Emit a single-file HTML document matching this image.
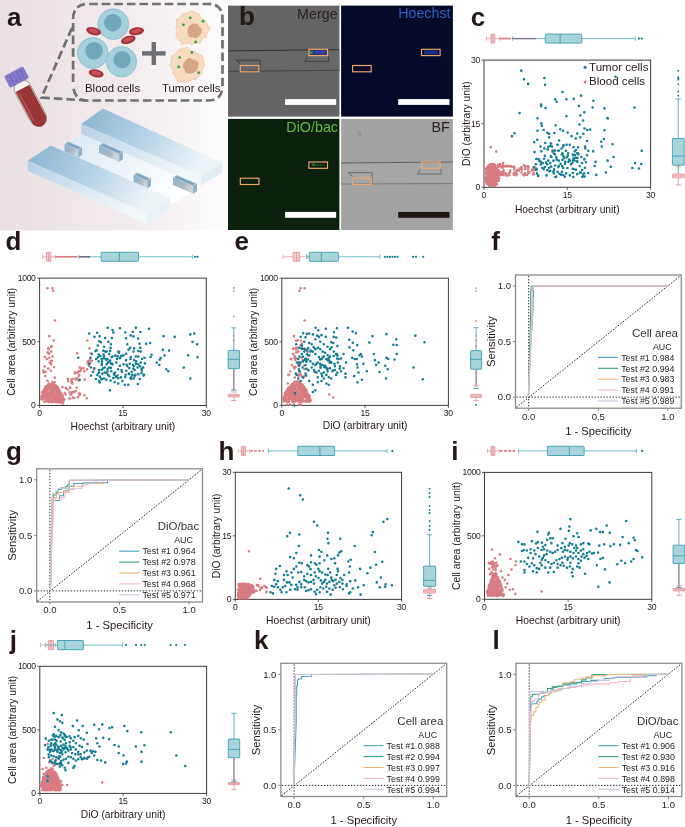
<!DOCTYPE html>
<html><head><meta charset="utf-8"><style>html,body{margin:0;padding:0;background:#fff;}svg{display:block;will-change:transform;}</style></head><body>
<svg width="685" height="827" viewBox="0 0 685 827" font-family='"Liberation Sans", sans-serif'>
<rect width="685" height="827" fill="#ffffff"/>
<defs><linearGradient id="bga" x1="0" y1="0" x2="1" y2="0"><stop offset="0" stop-color="#eadfe2"/><stop offset="0.55" stop-color="#f2ebed"/><stop offset="1" stop-color="#fdfcfc"/></linearGradient><linearGradient id="chipT" x1="0" y1="0" x2="1" y2="0.3"><stop offset="0" stop-color="#86b3d0"/><stop offset="0.55" stop-color="#b9d5e6"/><stop offset="1" stop-color="#eef5f9"/></linearGradient><linearGradient id="chipS" x1="0" y1="0" x2="1" y2="0.3"><stop offset="0" stop-color="#b8d2e4"/><stop offset="1" stop-color="#f3f8fb"/></linearGradient><linearGradient id="chipF" x1="0" y1="0" x2="1" y2="0.3"><stop offset="0" stop-color="#d6e6f1"/><stop offset="1" stop-color="#ffffff"/></linearGradient><linearGradient id="trapF" x1="0" y1="0" x2="1" y2="0.4"><stop offset="0" stop-color="#8fb3cd"/><stop offset="0.6" stop-color="#aab7c2"/><stop offset="1" stop-color="#c9d3da"/></linearGradient><radialGradient id="tum" cx="0.5" cy="0.5" r="0.5"><stop offset="0" stop-color="#f4d3b0"/><stop offset="1" stop-color="#f6dcc0"/></radialGradient></defs>
<rect x="0" y="0" width="226" height="230.5" fill="url(#bga)"/>
<text x="6.9" y="25.5" font-size="26" text-anchor="start" fill="#231815" font-weight="bold">a</text>
<g fill="none" stroke="#707075" stroke-width="2.7" stroke-dasharray="8.6 4"><path d="M73.1 82 L73.1 19 Q73.1 4 88 4 L209 4 Q222.5 4 222.5 19 L222.5 86 Q222.5 100.5 208 100.5 L87 100.5 Q74.5 100.5 73.1 86"/><path d="M72 28 L41.5 97.5 L86 100.5"/></g>
<circle cx="113.3" cy="24.2" r="15.4" fill="#a5d1dd" stroke="#86bccb" stroke-width="0.8"/>
<circle cx="112.8" cy="22.6" r="8.78" fill="#6ea8ba"/>
<circle cx="92.8" cy="53" r="15.4" fill="#a5d1dd" stroke="#86bccb" stroke-width="0.8"/>
<circle cx="94.1" cy="50.8" r="8.78" fill="#6ea8ba"/>
<circle cx="121.5" cy="61.8" r="15.2" fill="#a5d1dd" stroke="#86bccb" stroke-width="0.8"/>
<circle cx="122" cy="59.6" r="8.66" fill="#6ea8ba"/>
<g transform="translate(93.6 31.2) rotate(14)"><ellipse rx="7.6" ry="3.9" fill="#a7343a"/><ellipse rx="4.8" ry="2.0" cy="-0.3" fill="#c4545a"/></g>
<g transform="translate(136.5 31.2) rotate(-8)"><ellipse rx="7.6" ry="3.9" fill="#a7343a"/><ellipse rx="4.8" ry="2.0" cy="-0.3" fill="#c4545a"/></g>
<g transform="translate(128.3 39.8) rotate(-18)"><ellipse rx="7.6" ry="3.9" fill="#a7343a"/><ellipse rx="4.8" ry="2.0" cy="-0.3" fill="#c4545a"/></g>
<g transform="translate(96.2 73.4) rotate(12)"><ellipse rx="7.6" ry="3.9" fill="#a7343a"/><ellipse rx="4.8" ry="2.0" cy="-0.3" fill="#c4545a"/></g>
<rect x="142" y="51.2" width="23.6" height="4.4" fill="#6f6f73"/><rect x="151.6" y="42" width="4.4" height="23" fill="#6f6f73"/>
<polygon points="210.49,28.4 208.28,30.17 208.1,31.95 206.99,33.46 206.07,34.93 206.79,37.29 204.06,37.6 202.81,38.68 201.95,40.12 200.67,41.16 200.08,43.44 197.81,42.81 196.27,43.39 194.61,43.51 193.01,43.71 191.4,44.81 189.79,43.71 188.22,43.37 186.55,43.33 184.74,43.35 181.94,44.78 181.37,42.2 179.88,41.19 178.6,39.92 177.3,38.64 175.6,37.52 176.49,35.04 176.35,33.29 176.49,31.57 176.43,29.97 175.63,28.4 176.65,26.85 176.8,25.3 176.57,23.58 176.72,21.86 175.98,19.5 178.02,18.68 179.2,17.41 180.46,16.25 181.78,15.16 182.67,13.28 184.8,13.58 186.35,12.85 188.03,12.53 189.65,11.79 191.4,10.7 193.17,11.6 194.89,12 196.49,12.73 197.85,13.92 199.63,14.14 200.23,16.24 201.29,17.41 202.38,18.51 203.29,19.76 205.69,20.15 205.91,21.94 207.13,23.29 207.68,24.94 208.44,26.61" fill="#f7dbbe" stroke="#ebc39e" stroke-width="0.7"/>
<polygon points="201.76,31 201.45,32.91 200.46,34.55 199.09,35.79 197.81,37.08 196.22,38.17 194.3,37.7 192.55,37.53 190.48,37.62 188.79,36.51 187.87,34.71 187.57,32.8 187.48,31 187.66,29.22 188.11,27.43 188.98,25.68 190.66,24.7 192.43,24.01 194.3,23.36 196.23,23.8 197.95,24.68 198.91,26.39 200.3,27.54 201.47,29.08" fill="#d8a682"/>
<circle cx="190.3" cy="17.9" r="1.35" fill="#22a632"/>
<circle cx="203" cy="21.4" r="1.35" fill="#22a632"/>
<circle cx="183.4" cy="24.8" r="1.35" fill="#22a632"/>
<circle cx="195.6" cy="41.8" r="1.35" fill="#22a632"/>
<polygon points="204.77,65.2 203.32,66.92 202.54,68.5 202.3,70.17 201.8,71.79 201.88,73.79 200.05,74.68 199.12,76.11 197.8,77.2 196.25,77.94 195.65,80.19 193.28,79.31 191.78,79.91 190.27,80.58 188.66,80.98 187,82.75 185.26,81.76 183.42,82.05 181.5,82.11 179.73,81.54 177.37,81.88 176.82,79.21 175.68,77.77 175.07,75.94 174.44,74.32 172.49,73.57 173.1,71.39 172.42,69.94 171.89,68.41 171.43,66.84 169.25,65.2 170.57,63.47 170.87,61.77 171.06,60.02 171.86,58.46 170.99,55.96 173.69,55.53 174.89,54.3 175.96,52.94 177.28,51.82 178.1,49.78 180,49.48 181.69,48.87 183.4,48.28 185.22,48.31 187,47.1 188.66,49.37 190.22,50.03 191.62,50.97 192.98,51.77 194.99,51.35 196.01,52.8 197.43,53.62 198.98,54.41 200.79,55.18 202.9,56.02 202.95,58.1 203.64,59.79 203.85,61.62 204.02,63.41" fill="#f7dbbe" stroke="#ebc39e" stroke-width="0.7"/>
<polygon points="198.16,66 198.15,68.02 197.09,69.75 195.94,71.34 194.31,72.43 192.45,72.92 190.6,73.72 188.56,73.62 186.36,73.34 184.95,71.65 184.56,69.49 183.51,67.9 183.15,66 183.15,64 183.97,62.17 185.21,60.61 186.67,59.19 188.44,57.95 190.6,58.36 192.43,59.16 194.23,59.7 196.19,60.41 197.85,61.81 198.64,63.85" fill="#d8a682"/>
<circle cx="191.9" cy="52.4" r="1.35" fill="#22a632"/>
<circle cx="179.7" cy="57.5" r="1.35" fill="#22a632"/>
<circle cx="178.7" cy="66.9" r="1.35" fill="#22a632"/>
<circle cx="198.6" cy="72.7" r="1.35" fill="#22a632"/>
<text x="85" y="91.8" font-size="11.4" text-anchor="start" fill="#231815" font-weight="normal">Blood cells</text>
<text x="162" y="91.8" font-size="11.4" text-anchor="start" fill="#231815" font-weight="normal">Tumor cells</text>
<g transform="translate(20.2 84.0) rotate(-28)"><rect x="-8.6" y="-3" width="17.2" height="49.2" rx="8.4" fill="#f4f4f2" stroke="#8d8f80" stroke-width="0.8"/><path d="M-7.8 5 L7.8 5 L7.8 39.7 A7.8 7.8 0 0 1 -7.8 39.7 Z" fill="#9b3638"/><path d="M-5.3 8 L-5.3 38.5" stroke="#c06064" stroke-width="0.9"/><rect x="-10.8" y="-14.5" width="21.6" height="13.4" rx="2.2" fill="#8479c6"/><path d="M-5.5 -12.5 v9.5 M-1.5 -12.5 v9.5 M2.5 -12.5 v9.5 M6.5 -12.5 v9.5" stroke="#7167b6" stroke-width="1"/></g>
<polygon points="58.7,148.9 81.3,133.9 200.9,186 178.3,201 165,206 50,160" fill="url(#chipF)" stroke="none" stroke-width="0.5"/>
<polygon points="81.3,123.9 102.8,108.6 222.3,162.8 200.9,176" fill="url(#chipT)" stroke="none" stroke-width="0.5"/>
<polygon points="81.3,123.9 200.9,176 200.9,186 81.3,133.9" fill="url(#chipS)" stroke="none" stroke-width="0.5"/>
<polygon points="200.9,176 222.3,162.8 222.3,172.8 200.9,186" fill="#e2eef6" stroke="none" stroke-width="0.5"/>
<polygon points="64.5,144 78.25,149.99 82,147.5 68.25,141.51" fill="#9fc0d6" stroke="none" stroke-width="0.5"/>
<polygon points="64.5,151.5 78.25,157.49 78.25,149.99 64.5,144" fill="url(#trapF)" stroke="none" stroke-width="0.5"/>
<polygon points="78.25,157.49 82,155 82,147.5 78.25,149.99" fill="#8fb0c8" stroke="none" stroke-width="0.5"/>
<polygon points="66.43,143.93 77.98,148.96 80.06,147.58 68.51,142.54" fill="#7fa3bd" stroke="none" stroke-width="0.5"/>
<polygon points="99,145.5 119.17,154.29 122.91,151.8 102.75,143.01" fill="#9fc0d6" stroke="none" stroke-width="0.5"/>
<polygon points="99,153 119.17,161.79 119.17,154.29 99,145.5" fill="url(#trapF)" stroke="none" stroke-width="0.5"/>
<polygon points="119.17,161.79 122.91,159.3 122.91,151.8 119.17,154.29" fill="#8fb0c8" stroke="none" stroke-width="0.5"/>
<polygon points="100.93,145.43 118.9,153.26 120.98,151.87 103.01,144.04" fill="#7fa3bd" stroke="none" stroke-width="0.5"/>
<polygon points="133.5,175 147.25,180.99 151,178.5 137.25,172.51" fill="#9fc0d6" stroke="none" stroke-width="0.5"/>
<polygon points="133.5,182.5 147.25,188.49 147.25,180.99 133.5,175" fill="url(#trapF)" stroke="none" stroke-width="0.5"/>
<polygon points="147.25,188.49 151,186 151,178.5 147.25,180.99" fill="#8fb0c8" stroke="none" stroke-width="0.5"/>
<polygon points="135.43,174.93 146.98,179.96 149.06,178.58 137.51,173.54" fill="#7fa3bd" stroke="none" stroke-width="0.5"/>
<polygon points="173,177.5 193.17,186.29 196.91,183.8 176.75,175.01" fill="#9fc0d6" stroke="none" stroke-width="0.5"/>
<polygon points="173,185 193.17,193.79 193.17,186.29 173,177.5" fill="url(#trapF)" stroke="none" stroke-width="0.5"/>
<polygon points="193.17,193.79 196.91,191.3 196.91,183.8 193.17,186.29" fill="#8fb0c8" stroke="none" stroke-width="0.5"/>
<polygon points="174.93,177.43 192.9,185.26 194.98,183.87 177.01,176.04" fill="#7fa3bd" stroke="none" stroke-width="0.5"/>
<polygon points="27.7,160.7 50.7,145.4 170.2,198.1 147.2,213.4" fill="url(#chipT)" stroke="none" stroke-width="0.5"/>
<polygon points="27.7,160.7 147.2,213.4 147.2,223.9 27.7,170.7" fill="url(#chipS)" stroke="none" stroke-width="0.5"/>
<polygon points="147.2,213.4 170.2,198.1 170.2,208.4 147.2,223.9" fill="#e8f2f8" stroke="none" stroke-width="0.5"/>
<rect x="228.0" y="5.6" width="111.4" height="111" fill="#646464"/>
<rect x="228.0" y="50.6" width="111.4" height="20.6" fill="#676767"/>
<line x1="228.0" y1="50.9" x2="339.4" y2="49.6" stroke="#2e2e2e" stroke-width="0.9"/>
<line x1="228.0" y1="71.3" x2="339.4" y2="70.3" stroke="#3e3e3e" stroke-width="0.8"/>
<path d="M236.3 60.3 L259.9 60.3 L259.9 70.5 M236.3 60.3 L240 63.5" stroke="#3a3a3a" stroke-width="0.9" fill="none"/>
<path d="M304.8 61.3 L328.6 61.3 L328.6 56 M304.8 61.3 L307.5 57" stroke="#3a3a3a" stroke-width="0.9" fill="none"/>
<rect x="309.5" y="50" width="17.6" height="5" fill="#2a3170"/><rect x="314" y="50.8" width="11" height="3.4" fill="#3442a8"/><rect x="309.8" y="50.8" width="3" height="3" fill="#3c8a50"/>
<rect x="341.1" y="5.6" width="111.8" height="111" fill="#050a28"/>
<rect x="424" y="50.5" width="14" height="4" fill="#1b3a9a" opacity="0.8"/>
<rect x="228.0" y="118.9" width="111.4" height="111.1" fill="#0c200e"/>
<ellipse cx="313.5" cy="164.8" rx="2" ry="1.2" fill="#2f8a3a" opacity="0.8"/><rect x="315" y="164" width="9" height="2" fill="#17401c"/>
<rect x="341.1" y="118.9" width="111.8" height="111.1" fill="#a3a3a3"/>
<rect x="341.1" y="163" width="111.8" height="21" fill="#a6a6a6"/>
<line x1="341.1" y1="163" x2="452.9" y2="162" stroke="#5a5a5a" stroke-width="0.9"/>
<line x1="341.1" y1="184.0" x2="452.9" y2="183.6" stroke="#707070" stroke-width="0.8"/>
<path d="M348.5 172.6 L372 172.6 L372 184 M348.5 172.6 L352.5 177" stroke="#666" stroke-width="0.9" fill="none"/>
<path d="M417.5 174 L441 174 L441 168.5 M417.5 174 L420.5 169" stroke="#666" stroke-width="0.9" fill="none"/>
<circle cx="359.5" cy="133.5" r="2.4" fill="#909090" opacity="0.8"/>
<rect x="240.3" y="65.5" width="18.6" height="6.3" fill="none" stroke="#f3a66c" stroke-width="1.15"/>
<rect x="308.9" y="49.3" width="18.6" height="6.3" fill="none" stroke="#f3a66c" stroke-width="1.15"/>
<rect x="352.6" y="65.5" width="18.6" height="6.3" fill="none" stroke="#f3a66c" stroke-width="1.15"/>
<rect x="421.5" y="49.3" width="18.6" height="6.3" fill="none" stroke="#f3a66c" stroke-width="1.15"/>
<rect x="240.3" y="178.2" width="18.6" height="6.3" fill="none" stroke="#f3a66c" stroke-width="1.15"/>
<rect x="308.9" y="162" width="18.6" height="6.3" fill="none" stroke="#f3a66c" stroke-width="1.15"/>
<rect x="352.6" y="178.2" width="18.6" height="6.3" fill="none" stroke="#f3a66c" stroke-width="1.15"/>
<rect x="421.5" y="162" width="18.6" height="6.3" fill="none" stroke="#f3a66c" stroke-width="1.15"/>
<rect x="285.1" y="99.1" width="51.1" height="5.8" fill="#ffffff"/>
<rect x="398.2" y="99.1" width="51.3" height="5.8" fill="#ffffff"/>
<rect x="285.1" y="211.9" width="51.1" height="5.9" fill="#ffffff"/>
<rect x="398.2" y="211.9" width="51.3" height="5.9" fill="#1e1412"/>
<text x="239" y="25.4" font-size="26" text-anchor="start" fill="#231815" font-weight="bold">b</text>
<text x="337.6" y="19.2" font-size="14.3" text-anchor="end" fill="#2b2020" font-weight="normal">Merge</text>
<text x="450.6" y="17.9" font-size="14.3" text-anchor="end" fill="#2f5fc8" font-weight="normal">Hoechst</text>
<text x="338" y="132.3" font-size="14.3" text-anchor="end" fill="#5cbf3e" font-weight="normal">DiO/bac</text>
<text x="449.8" y="132.3" font-size="14.3" text-anchor="end" fill="#2b2020" font-weight="normal">BF</text>
<text x="470.8" y="25.8" font-size="26" text-anchor="start" fill="#231815" font-weight="bold">c</text>
<rect x="484" y="60.1" width="166.6" height="127.2" fill="none" stroke="#3c3c3c" stroke-width="1"/>
<line x1="481.5" y1="187.3" x2="484" y2="187.3" stroke="#3c3c3c" stroke-width="0.8"/>
<text x="480" y="190.2" font-size="8.6" text-anchor="end" fill="#231815" font-weight="normal" letter-spacing="-0.3">0</text>
<line x1="481.5" y1="123.7" x2="484" y2="123.7" stroke="#3c3c3c" stroke-width="0.8"/>
<text x="480" y="126.6" font-size="8.6" text-anchor="end" fill="#231815" font-weight="normal" letter-spacing="-0.3">15</text>
<line x1="481.5" y1="60.1" x2="484" y2="60.1" stroke="#3c3c3c" stroke-width="0.8"/>
<text x="480" y="63" font-size="8.6" text-anchor="end" fill="#231815" font-weight="normal" letter-spacing="-0.3">30</text>
<line x1="484" y1="187.3" x2="484" y2="189.8" stroke="#3c3c3c" stroke-width="0.8"/>
<text x="483.85" y="197.9" font-size="8.6" text-anchor="middle" fill="#231815" font-weight="normal" letter-spacing="-0.3">0</text>
<line x1="567.3" y1="187.3" x2="567.3" y2="189.8" stroke="#3c3c3c" stroke-width="0.8"/>
<text x="567.15" y="197.9" font-size="8.6" text-anchor="middle" fill="#231815" font-weight="normal" letter-spacing="-0.3">15</text>
<line x1="650.6" y1="187.3" x2="650.6" y2="189.8" stroke="#3c3c3c" stroke-width="0.8"/>
<text x="650.45" y="197.9" font-size="8.6" text-anchor="middle" fill="#231815" font-weight="normal" letter-spacing="-0.3">30</text>
<text x="567.3" y="212.9" font-size="10.3" text-anchor="middle" fill="#231815" font-weight="normal">Hoechst (arbitrary unit)</text>
<text x="470.1" y="123.7" font-size="10.3" text-anchor="middle" fill="#231815" font-weight="normal" transform="rotate(-90 470.1 123.7)">DiO (arbitrary unit)</text>
<path d="M487.36 175.23h0M494.22 164.65h0M499.25 177.99h0M490.85 175.51h0M495.11 170.19h0M487.5 181.73h0M495.22 175.53h0M497.34 176.35h0M493.53 174.88h0M490.62 177.31h0M488.91 182.05h0M492.27 170.24h0M491.73 167.32h0M495.26 168.55h0M490.51 174.55h0M498.64 179.69h0M490.42 164.38h0M492.17 179.55h0M497.77 177.23h0M489.98 171.14h0M486.79 167.89h0M492.26 166.86h0M496.22 168.4h0M486.4 177.46h0M497.17 168.28h0M489.75 180.36h0M492.65 183.19h0M488.65 171.09h0M489.24 186.01h0M491.82 171.07h0M486.48 173.09h0M489.05 183.02h0M496.26 176.28h0M495.09 179.58h0M487.67 178.09h0M487.58 173.97h0M496.9 184.13h0M490.71 167.67h0M489.04 172.04h0M494.73 167.59h0M492.72 165.77h0M494.36 169.21h0M493.55 178.33h0M490.21 178.48h0M490.6 166.94h0M490.07 172.89h0M486.75 176.63h0M495.65 165.5h0M497.19 179.38h0M487.59 174.46h0M486.22 182.04h0M495.92 182.1h0M496.53 170.01h0M496.95 169.61h0M487.5 172.78h0M492.72 170.43h0M494.28 177.56h0M488.98 178.01h0M490.68 180.53h0M489.71 181.97h0M491.52 176.45h0M495.26 175.66h0M489.24 186.04h0M486.89 171.31h0M493.46 164.65h0M487.75 181.98h0M496.87 178.33h0M498.58 181h0M489.83 178.51h0M490.43 180.87h0M491.08 167.45h0M498.21 179.53h0M496.3 176.59h0M496.85 174.08h0M493.7 165.41h0M493.55 182.33h0M495.73 182.07h0M492.69 183.83h0M487.07 183.7h0M490.88 166.05h0M494.48 174.24h0M491.71 183.17h0M487.5 177.88h0M491.5 175.89h0M492.74 167.02h0M492.92 183.4h0M486.48 174.35h0M487.24 173.42h0M488.51 180.07h0M493.35 170.48h0M489.2 183.51h0M496.61 173.81h0M491.38 180.59h0M487.81 172.15h0M492.86 165.61h0M486.28 168.94h0M491.1 180.63h0M494.34 164.66h0M486.15 174.17h0M490.79 183.97h0M498.97 173.15h0M496.32 172.22h0M487.73 176.94h0M486.75 178.93h0M492 166.64h0M495.26 172.4h0M488.16 170.56h0M495.95 171.31h0M495.53 175.3h0M492.01 185.77h0M487.91 174.96h0M492.58 171.47h0M487.94 177.37h0M491.28 166.86h0M485.97 172.8h0M493.96 175.67h0M492.43 175.79h0M491.26 172.99h0M486.1 181.97h0M492.26 180.15h0M491.82 172.19h0M495.05 167.66h0M485.66 177.33h0M493.19 183.48h0M491.53 181.69h0M494.18 169.09h0M490.93 171.59h0M493.67 183.97h0M490.8 168.14h0M491.08 171.14h0M491.12 165.14h0M493.54 178.04h0M490.64 178.77h0M491.91 168.84h0M498.39 180.78h0M491.48 179.47h0M491.86 175.55h0M489.11 180.25h0M495.4 173.12h0M489.77 182.63h0M489.48 164.7h0M489.94 177.17h0M489.97 172.53h0M487.01 172.75h0M485.87 169.04h0M498.69 170.32h0M489.43 179.28h0M498.3 170.66h0M490.96 180.08h0M496.99 177.81h0M488.1 168.07h0M496.49 179.9h0M491.61 167h0M498.41 179.65h0M493.86 179.34h0M491.08 171.72h0M493.84 174.86h0M495.78 185.06h0M497.79 172.72h0M490.9 184.85h0M491.22 182.01h0M486.84 174.15h0M492.99 182.2h0M494.45 178.16h0M487.7 182.76h0M493.53 185.64h0M488.2 175.81h0M490.19 178.46h0M494.32 175.53h0M490.21 175.34h0M490.9 184.04h0M492.19 174.69h0M489.25 169.71h0M498.09 177.38h0M493.74 179.95h0M495.98 174.09h0M494.7 169.14h0M485.81 179.22h0M492.38 184.38h0M489.33 182.4h0M487.89 169.14h0M490.74 166.6h0M499.03 172.12h0M494.58 174.23h0M496.27 182.14h0M491.05 176.04h0M486.91 170.42h0M488.73 170.94h0M490.2 176.94h0M490.33 171.35h0M498.05 178.26h0M488.66 184.7h0M489.02 175.67h0M495.38 181.94h0M489.1 174.73h0M486.16 170.48h0M493.94 181.7h0M498.58 171.47h0M487.8 175.93h0M494.11 179.59h0M494.77 184.74h0M492.92 182.23h0M487.53 184.15h0M491.83 183.73h0M490.15 178.05h0M497.78 180.01h0M494.49 185.84h0M493.5 185.48h0M495.45 170.97h0M487.06 174.09h0M492.46 174.54h0M494.48 170.14h0M498.27 170.49h0M487.05 171.85h0M489.53 184.85h0M490.55 182.97h0M488.94 168.06h0M493.52 167.25h0M497.82 172.91h0M490.03 175.27h0M489.33 177.41h0M494.73 180.51h0M494.02 165.83h0M486.4 181.1h0M488.43 181.77h0M492.23 164.16h0M493.64 173.97h0M486.57 169.87h0M489.95 171.78h0M495.75 167.76h0M491.93 177.65h0M486.65 168.31h0M488.7 167.66h0M486.6 168.71h0M488.74 174.79h0M494.89 172.19h0M487.94 166.13h0M489.31 167.84h0M492.48 183.6h0M495.89 168.57h0M491.82 172.18h0M495.4 165.89h0M489.19 179.43h0M493.74 175.63h0M488.33 176.73h0M493.7 186.05h0M496.5 179.69h0M487.43 177.55h0M489.93 172.08h0M497.88 180.13h0M496.41 170.48h0M491.55 167.96h0M494.23 182.88h0M489.28 179.78h0M487.34 176.07h0M487.1 176.16h0M493.36 171.81h0M490.57 180h0M492.48 173.17h0M487.13 170.35h0M507.78 175.36h0M505.38 166.15h0M511.65 166.77h0M524.15 165.38h0M532.96 174.3h0M498.11 170.5h0M502.17 167.1h0M514.26 169.44h0M516.26 175.13h0M508.09 166.25h0M524.15 175.36h0M533.99 174.56h0M500.51 175.24h0M523.32 174.46h0M513.92 166.63h0M528.93 171.94h0M528.37 166.42h0M503.24 173.16h0M498.79 175.35h0M503.27 171.2h0M514.34 167.89h0M504.64 173.36h0M533.67 172.75h0M521.41 172.54h0M518.91 170.7h0M533.34 167.39h0M506.67 175.36h0M534.78 169.71h0M529.23 172.92h0M533.03 170h0M515.51 172.24h0M522.04 169.24h0M509.35 175.02h0M513.77 173.16h0M507.39 174.7h0M506.21 166.26h0M501.02 172.25h0M510.1 172.3h0M501.19 174.45h0M525.13 173.39h0M521.65 169.49h0M505.53 175.31h0M503.67 170.26h0M502.74 165.3h0M525.17 174.67h0M515.99 173.54h0M531.52 170.43h0M528.24 167.52h0M503.86 166.27h0M498.28 164.85h0M527.29 174.84h0M500.23 172.65h0M528.33 172.17h0M517.46 169.83h0M525.09 166.94h0M527.35 166.31h0M499.37 175.2h0M501.53 166.36h0M500.18 164.12h0M502.84 175.06h0M525.13 168.86h0M498.26 173.94h0M516.91 174.25h0M500.88 173.48h0M506.68 165.8h0M513.96 167.14h0M508.79 173.52h0M501.83 167.53h0M532.37 169.22h0M528.01 169.2h0M513.83 174.63h0M510.24 170.56h0M501.86 166.83h0M498.11 172.2h0M520.57 168.1h0M513.64 174.1h0M499.48 171.84h0M524.96 166.63h0M509.52 166.16h0M520.07 168.43h0M503.08 167.47h0M521.8 169.74h0M517.07 170.91h0M536.26 168.62h0M500.23 166.21h0M498.29 166.42h0M521.5 167.09h0M502.77 173.67h0M505.37 173.18h0M510.95 166.39h0M490.87 147.17h0M496.26 151.59h0M503.13 163.12h0M552.68 150.36h0M562.49 154.04h0M502.4 171.7h0" stroke="#d87c82" stroke-width="2.6" stroke-linecap="round" fill="none"/>
<path d="M521.28 70.65h0M523.98 79.23h0M528.15 83.89h0M544.34 78.01h0M545.07 84.87h0M562.49 91.99h0M555.13 99.34h0M556.6 101.8h0M566.41 99.34h0M573.77 98.85h0M581.13 95.67h0M593.39 100.82h0M541.15 104.5h0M541.15 106.21h0M545.56 107.93h0M578.92 105.97h0M592.66 107.44h0M604.43 108.42h0M634.6 107.44h0M519.57 113.08h0M566.41 116.27h0M537.47 118.23h0M584.32 112.34h0M580.39 115.53h0M583.09 120.44h0M579.41 124.61h0M607.38 117.99h0M607.87 118.48h0M541.4 123.38h0M541.89 125.83h0M555.62 125.34h0M543.6 130h0M547.28 132.7h0M537.47 130.74h0M537.23 139.82h0M560.28 129.27h0M562.98 130.74h0M567.64 132.46h0M577.21 133.44h0M584.56 128.53h0M587.26 130h0M590.21 129.51h0M604.43 130.25h0M514.41 133.19h0M511.96 136.14h0M554.39 132.95h0M549 133.68h0M559.06 140.55h0M563.72 145.21h0M571.56 136.14h0M575.73 138.59h0M580.39 137.36h0M587.02 141.04h0M583.34 133.68h0M601.24 141.78h0M603.94 139.08h0M601.73 146.44h0M612.53 144.23h0M550.96 143.49h0M551.94 146.44h0M545.32 143h0M549.24 137.36h0M534.28 142.27h0M540.41 146.44h0M544.34 148.4h0M547.77 149.38h0M541.4 151.34h0M544.83 155.76h0M534.53 152.08h0M536.24 158.95h0M540.9 161.89h0M534.28 167.29h0M536.24 169.98h0M536.98 173.42h0M542.38 168.02h0M544.83 167.04h0M550.23 163.12h0M552.43 151.34h0M555.13 154.53h0M556.36 157.23h0M558.81 160.66h0M560.53 163.85h0M563.22 168.02h0M557.58 171.7h0M553.9 173.42h0M550.23 170.97h0M546.55 175.38h0M569.85 144.72h0M573.53 147.17h0M574.75 151.34h0M577.94 153.31h0M581.38 156.98h0M584.32 159.44h0M582.11 163.12h0M579.66 166.06h0M575.98 169.74h0M572.79 172.93h0M569.85 175.38h0M567.39 168.02h0M565.19 161.89h0M566.9 157.23h0M569.85 160.66h0M571.07 164.34h0M573.53 158.21h0M577.21 161.89h0M587.02 155.27h0M588.24 150.85h0M593.15 151.34h0M595.6 161.89h0M594.62 166.06h0M588.24 172.93h0M584.56 176.61h0M596.34 174.89h0M605.9 172.44h0M610.81 166.8h0M613.51 156.98h0M607.62 160.66h0M632.39 168.02h0M635.09 163.12h0M639.02 168.51h0M641.22 164.1h0M641.71 150.85h0M551.45 156.98h0M548.26 160.66h0M544.09 158.7h0M539.19 160.66h0M547.28 164.34h0M555.13 165.57h0M558.81 166.06h0M562 171.7h0M566.17 173.42h0M577.21 174.15h0M580.88 172.44h0M561.75 154.53h0M564.21 157.72h0M558.32 150.85h0M557.58 144.72h0M568.13 153.31h0M572.79 154.53h0M553.41 160.66h0M579.89 172.62h0M577.05 153.25h0M538.35 175.6h0M566.65 144.81h0M582.29 176.85h0M549.38 171.26h0M538.63 159.02h0M577.4 158.05h0M561.59 148.54h0M577.21 160.96h0M547.38 170.06h0M585.92 162.28h0M573.16 177.11h0M535.87 164.26h0M585.29 148.55h0M546.05 162.67h0M572.37 162.75h0M563.17 146.4h0M573.27 155.18h0M538.18 175.99h0M569.07 159.59h0M572.92 160.31h0M540.86 164.44h0M573.67 169h0M563.37 175.01h0M584.15 173.26h0M553.88 153.46h0M562.22 166.07h0M542.75 162.97h0M557.43 144.78h0M556.37 157.77h0M585.09 146.5h0M583.25 174.35h0M565.91 150.83h0M576.01 149.99h0M551.19 166.46h0M556.71 159.76h0M550.27 145.94h0M553.31 171.69h0M578.06 147.37h0M563.44 156.26h0M555.32 176.95h0M576.96 161.26h0M561.04 174.63h0M554.07 170.23h0M572.76 168.77h0M558.31 167.08h0M578.44 154.37h0M574.53 160.44h0M562.46 159.88h0M554.05 169.26h0M554.95 150.64h0M575.82 157.76h0M564.82 176.77h0M568.43 161.83h0M549.25 167.85h0M584.93 167.83h0M574.88 155.1h0M550.8 156.39h0M559.53 173.86h0M558.87 150.48h0M562.4 153.19h0M567.82 155.77h0M584.46 158.97h0M565.01 163.79h0M556.11 176.62h0M536.55 168.98h0M548.22 146.71h0M543.75 169.22h0M582.2 170.02h0M615.47 76.78h0" stroke="#137d92" stroke-width="2.6" stroke-linecap="round" fill="none"/>
<circle cx="585.1" cy="67.3" r="1.5" fill="#137d92"/>
<circle cx="585.1" cy="81.9" r="1.5" fill="#d87c82"/>
<text x="589" y="70.6" font-size="11.6" text-anchor="start" fill="#2b2020" font-weight="normal">Tumor cells</text>
<text x="589" y="85" font-size="11.6" text-anchor="start" fill="#2b2020" font-weight="normal">Blood cells</text>
<line x1="486.5" y1="38.6" x2="491" y2="38.6" stroke="#e8a9ad" stroke-width="0.9"/>
<line x1="494.8" y1="38.6" x2="499.5" y2="38.6" stroke="#e8a9ad" stroke-width="0.9"/>
<line x1="486.5" y1="36.4" x2="486.5" y2="40.8" stroke="#e8a9ad" stroke-width="0.9"/>
<line x1="499.5" y1="36.4" x2="499.5" y2="40.8" stroke="#e8a9ad" stroke-width="0.9"/>
<line x1="499.5" y1="38.6" x2="511" y2="38.6" stroke="#d87c82" stroke-width="1.7"/>
<rect x="491" y="34.1" width="3.8" height="9" fill="#f5c9cb" stroke="#e2959a" stroke-width="0.9" rx="0.6"/>
<line x1="492.9" y1="34.1" x2="492.9" y2="43.1" stroke="#e2959a" stroke-width="0.9"/>
<line x1="512.4" y1="38.6" x2="545.3" y2="38.6" stroke="#62b3c3" stroke-width="0.9"/>
<line x1="581.7" y1="38.6" x2="635.3" y2="38.6" stroke="#62b3c3" stroke-width="0.9"/>
<line x1="512.4" y1="36.4" x2="512.4" y2="40.8" stroke="#62b3c3" stroke-width="0.9"/>
<line x1="635.3" y1="36.4" x2="635.3" y2="40.8" stroke="#62b3c3" stroke-width="0.9"/>
<rect x="545.3" y="34.1" width="36.4" height="9" fill="#a8d4dc" stroke="#3e9db0" stroke-width="0.9" rx="0.6"/>
<line x1="560.1" y1="34.1" x2="560.1" y2="43.1" stroke="#3e9db0" stroke-width="0.9"/>
<circle cx="638.9" cy="38.6" r="1.1" fill="#137d92"/>
<circle cx="641.8" cy="38.6" r="1.1" fill="#137d92"/>
<line x1="512.8" y1="38.6" x2="536" y2="38.6" stroke="#7a6f88" stroke-width="1.3"/>
<line x1="678.3" y1="138.5" x2="678.3" y2="99" stroke="#62b3c3" stroke-width="1"/>
<line x1="675.7" y1="99" x2="680.9" y2="99" stroke="#62b3c3" stroke-width="1"/>
<line x1="678.3" y1="165.2" x2="678.3" y2="176.2" stroke="#62b3c3" stroke-width="1"/>
<line x1="675.7" y1="176.2" x2="680.9" y2="176.2" stroke="#3e9db0" stroke-width="1"/>
<rect x="672.4" y="138.5" width="11.8" height="26.7" fill="#a8d4dc" stroke="#3e9db0" stroke-width="0.9" rx="0.6"/>
<line x1="672.4" y1="156.1" x2="684.2" y2="156.1" stroke="#3e9db0" stroke-width="0.9"/>
<circle cx="678.3" cy="70.7" r="0.95" fill="#137d92"/>
<circle cx="678.3" cy="77.3" r="0.95" fill="#137d92"/>
<circle cx="678.3" cy="78.5" r="0.95" fill="#137d92"/>
<circle cx="678.3" cy="79.6" r="0.95" fill="#137d92"/>
<circle cx="678.3" cy="84.3" r="0.95" fill="#137d92"/>
<circle cx="678.3" cy="91.4" r="0.95" fill="#137d92"/>
<circle cx="678.3" cy="95.8" r="0.95" fill="#137d92"/>
<line x1="678.3" y1="177.8" x2="678.3" y2="184.9" stroke="#e39aa0" stroke-width="0.9"/>
<line x1="675.7" y1="184.9" x2="680.9" y2="184.9" stroke="#e39aa0" stroke-width="0.9"/>
<line x1="675.7" y1="166.8" x2="680.9" y2="166.8" stroke="#e39aa0" stroke-width="0.9"/>
<rect x="672.4" y="173.9" width="11.8" height="3.9" fill="#f5c9cb" stroke="#e2959a" stroke-width="0.8" rx="0.5"/>
<line x1="672.4" y1="175.8" x2="684.2" y2="175.8" stroke="#e2959a" stroke-width="0.7"/>
<text x="5.6" y="249.8" font-size="26" text-anchor="start" fill="#231815" font-weight="bold">d</text>
<rect x="39.6" y="278.1" width="166.7" height="127.4" fill="none" stroke="#3c3c3c" stroke-width="1"/>
<line x1="37.1" y1="405.5" x2="39.6" y2="405.5" stroke="#3c3c3c" stroke-width="0.8"/>
<text x="35.6" y="408.4" font-size="8.6" text-anchor="end" fill="#231815" font-weight="normal" letter-spacing="-0.3">0</text>
<line x1="37.1" y1="341.8" x2="39.6" y2="341.8" stroke="#3c3c3c" stroke-width="0.8"/>
<text x="35.6" y="344.7" font-size="8.6" text-anchor="end" fill="#231815" font-weight="normal" letter-spacing="-0.3">500</text>
<line x1="37.1" y1="278.1" x2="39.6" y2="278.1" stroke="#3c3c3c" stroke-width="0.8"/>
<text x="35.6" y="281" font-size="8.6" text-anchor="end" fill="#231815" font-weight="normal" letter-spacing="-0.3">1000</text>
<line x1="39.6" y1="405.5" x2="39.6" y2="408" stroke="#3c3c3c" stroke-width="0.8"/>
<text x="39.45" y="416.1" font-size="8.6" text-anchor="middle" fill="#231815" font-weight="normal" letter-spacing="-0.3">0</text>
<line x1="122.95" y1="405.5" x2="122.95" y2="408" stroke="#3c3c3c" stroke-width="0.8"/>
<text x="122.8" y="416.1" font-size="8.6" text-anchor="middle" fill="#231815" font-weight="normal" letter-spacing="-0.3">15</text>
<line x1="206.3" y1="405.5" x2="206.3" y2="408" stroke="#3c3c3c" stroke-width="0.8"/>
<text x="206.15" y="416.1" font-size="8.6" text-anchor="middle" fill="#231815" font-weight="normal" letter-spacing="-0.3">30</text>
<text x="122.95" y="430.1" font-size="10.3" text-anchor="middle" fill="#231815" font-weight="normal">Hoechst (arbitrary unit)</text>
<text x="14.9" y="341.8" font-size="10.3" text-anchor="middle" fill="#231815" font-weight="normal" transform="rotate(-90 14.9 341.8)">Cell area (arbitrary unit)</text>
<path d="M58.53 394.61h0M54.77 401.93h0M49.59 384.99h0M43.93 395.91h0M60.35 396.43h0M50.03 395.59h0M45.51 392.01h0M58.03 394.62h0M49.75 386.53h0M57.09 392.5h0M52.81 390.29h0M55.04 388.18h0M62.03 396.68h0M53.51 390.63h0M55.14 401.76h0M53.79 388.98h0M47.48 400.01h0M53.12 395.72h0M48.52 395.04h0M57.79 394.01h0M45.99 386.3h0M49.54 387.79h0M58 400.21h0M42.38 396.47h0M47.06 398.93h0M56.21 395.29h0M54.02 400.6h0M46.39 399.75h0M61.98 397.87h0M45.91 398.64h0M57.69 389.75h0M53.19 392.01h0M56.18 389.59h0M53.91 390.12h0M53.72 394.26h0M54.86 401.33h0M43.68 391.09h0M60.62 401.21h0M56.13 389.68h0M57.6 391.66h0M52.36 396.01h0M56.5 400.63h0M48.36 387.42h0M53.24 383.39h0M59.12 392.32h0M55.59 398h0M49.44 394.69h0M48.16 388.22h0M54 386.78h0M63.29 398.53h0M44.4 401.74h0M46.78 396.27h0M45.54 388.5h0M52.98 390.05h0M58.5 389.49h0M59.19 390.44h0M48.67 396.6h0M54.23 399.13h0M56.05 387.35h0M49.49 400.99h0M52.01 395.98h0M46.72 398.25h0M53.06 398.14h0M46 387.33h0M43.52 394.41h0M55.61 388.22h0M45.49 387.36h0M50.83 397.55h0M45.59 393.18h0M45.74 399.16h0M61.63 397.36h0M47.14 392.56h0M47.04 400.79h0M59.99 398.24h0M41.35 397.37h0M57.1 386.85h0M50.65 388.08h0M51.99 393.61h0M47.67 387.94h0M61.7 401.04h0M50.68 390.56h0M51.96 393.36h0M47.59 401.32h0M55.22 385.42h0M52.68 398.76h0M53.12 387.94h0M48.07 397.03h0M47.03 397.24h0M52.95 388.7h0M62.37 397.55h0M60.9 392.98h0M50.64 388.82h0M46.75 399.66h0M58.71 401.92h0M49.8 399.78h0M56.97 398.13h0M53.74 392.68h0M54.74 398.34h0M62.76 400.16h0M57.33 400.94h0M53 386.66h0M45.96 389.06h0M56.63 399.68h0M55.74 385.54h0M48.35 392.3h0M45.82 401.02h0M56.68 396.48h0M45.21 393.15h0M44.81 389.09h0M56.06 387.51h0M44.34 395.61h0M47.98 385.98h0M42.75 393h0M46.69 400.41h0M57.67 392.35h0M55.3 387.16h0M49.78 398.55h0M47.01 397.89h0M46.16 389.4h0M41.45 399.1h0M41.76 395.96h0M52.48 398.66h0M53.2 400.57h0M56.62 400.68h0M52.85 395.88h0M49.51 393.23h0M52.3 388.93h0M52.26 385.78h0M57.28 395.3h0M47.23 395h0M53.35 395.36h0M53.97 389.99h0M47.77 398.7h0M49.62 401.48h0M51.1 397.02h0M47.77 387.56h0M53.05 398.81h0M53.39 394.51h0M48.9 395.56h0M50.47 392.45h0M57.32 391.98h0M54.16 388.61h0M45.35 392.81h0M54.6 400.75h0M50.65 393.55h0M47.64 389.97h0M60.23 398.04h0M43.6 390.01h0M52.13 400.43h0M52.86 389.59h0M52.79 388.79h0M55.63 392.15h0M51.32 392.38h0M47.74 392.74h0M56.96 395.14h0M42.37 395.69h0M43.97 395.45h0M57.5 395.33h0M58.77 390.77h0M52.26 388.71h0M41.96 392.34h0M57.99 388.9h0M48.65 388.5h0M53.31 386.94h0M46.24 394.67h0M45.47 395.9h0M51.43 389.72h0M63.02 401.02h0M44.08 391.9h0M52.97 389.58h0M48.21 401.51h0M53.8 401.05h0M47.68 395.43h0M52.66 398.27h0M59.26 400.17h0M50.96 384.26h0M52.08 402.21h0M48.88 396.23h0M63.48 400.07h0M52.57 397.33h0M45.73 393.81h0M56.79 394.66h0M47.25 391.88h0M58.24 388.9h0M53.03 395.93h0M46.27 387.34h0M51.84 396.9h0M60.59 399.44h0M47.48 399.37h0M47.91 395.44h0M45.63 392.93h0M59.81 390.92h0M52.24 398.08h0M45.8 387.35h0M59.37 401.42h0M41.77 395.6h0M63.75 400.82h0M44.26 394.34h0M51.77 396.03h0M58.57 390.31h0M51.24 397.79h0M51.53 395.51h0M47.26 392.86h0M57.81 399.67h0M45.27 397.1h0M44.38 392.08h0M57.44 389.03h0M54.43 388.06h0M54.57 392.36h0M49.55 385.3h0M48.69 398.16h0M43.29 398.01h0M59.59 400.76h0M52.07 392.77h0M51.03 393.6h0M60.79 393.7h0M53.15 398h0M51.24 392.01h0M56.69 387.01h0M45.41 387.4h0M57.01 391.22h0M44.16 397.65h0M55.19 388.77h0M59.08 391.77h0M52.12 391.96h0M62.42 402.15h0M52.44 391.37h0M55.08 401.98h0M57.01 396.89h0M61.41 394.73h0M47.29 385.54h0M45.76 394.52h0M44.91 387.96h0M56.27 398.48h0M46.28 401.11h0M58.33 389.65h0M50.68 385.43h0M58.58 400.6h0M53.84 388.51h0M47.54 388.72h0M51.32 395.55h0M48.71 401.88h0M56.96 397.44h0M46.36 400.75h0M58.05 396.62h0M56.28 390.22h0M59.45 398.8h0M56.2 391.61h0M60.81 399.76h0M59.22 396.14h0M45.2 390.15h0M58.06 388.28h0M54.17 389.99h0M51.87 401.61h0M47.76 390.04h0M58.8 398.87h0M58.25 396.49h0M47.99 387.32h0M44.11 397.86h0M56.78 389.12h0M43.23 396.51h0M50.65 394.38h0M47.64 388.49h0M47.44 393.03h0M58.85 391.97h0M51.04 401.5h0M50.51 387.92h0M46.98 401.2h0M52.95 391.75h0M46.84 399.32h0M51.91 401.04h0M59.14 400.83h0M59.4 391.42h0M57.48 391.28h0M62.6 397.15h0M58.31 395.98h0M57.1 399.93h0M47.09 394.9h0M44.23 390.72h0M53.91 385.42h0M51.51 392.71h0M45.89 396.34h0M61.38 398.51h0M54.88 385.48h0M50.16 389.11h0M54.42 396.83h0M45.39 398.91h0M50.91 401.95h0M55.2 400.2h0M43.8 391.71h0M59.39 399.33h0M59.33 394.34h0M62.23 395.86h0M52.16 386.47h0M56.34 401.21h0M60.13 394.56h0M53.41 392.4h0M53.1 398.79h0M53.49 394.63h0M54.44 386.3h0M50 397.76h0M42.71 399.39h0M46.85 401.2h0M45.55 396.34h0M56.51 401.99h0M45.89 396.62h0M62.74 401.24h0M50.26 391.87h0M57.81 395.95h0M50.74 397.63h0M45.78 393.59h0M54.07 399.22h0M48.41 384.39h0M44.12 397.15h0M43.05 397.55h0M53.19 387.54h0M62.54 400.68h0M53.1 393.65h0M50.15 397.07h0M54.43 394.84h0M57.03 388.74h0M54.85 389.91h0M54.67 395.94h0M51.1 392.8h0M55.33 398.94h0M58.06 389.68h0M57.75 396.36h0M45.28 396.08h0M49.04 394.38h0M48.2 399.58h0M47.5 352.77h0M43.33 370.47h0M48.89 383.52h0M54.77 377.64h0M51.11 346.96h0M49.16 357.85h0M45.25 376.08h0M48.31 349.02h0M47.54 380.68h0M47.84 352.31h0M52.01 361.1h0M53.96 367.04h0M50.86 361.09h0M43.65 372.48h0M48.29 348.4h0M44.79 366.5h0M51.88 346.03h0M52.84 383.54h0M51.31 364.2h0M45.37 371.72h0M52.49 382.16h0M54.79 382.36h0M48.25 368.65h0M50.9 363.74h0M49.04 353.64h0M44.81 357.03h0M50.88 370.72h0M49.74 362.68h0M71.43 379.46h0M75.36 378.91h0M89.81 359.73h0M83.43 368.16h0M91.83 360.85h0M80.18 371.2h0M70.03 387.37h0M75.26 372h0M57.39 386.91h0M94.19 369.41h0M81.05 369.39h0M67.59 389.51h0M72.53 383.49h0M72.7 379.02h0M89.07 361.12h0M87.14 369.2h0M80.51 367.86h0M77.39 372.86h0M67.99 378.88h0M78.91 375.95h0M71.91 382.92h0M62.58 395.03h0M62.52 387.13h0M64.21 399.04h0M90.81 353.24h0M59.17 392.86h0M90.19 363.04h0M62.25 397.35h0M79.25 374.94h0M74.85 373.39h0M76.02 379.53h0M87.61 363.3h0M79.38 370.95h0M79.69 367.63h0M75.79 391.17h0M69.84 398.56h0M84.45 371.17h0M77.28 378.13h0M71.5 381.43h0M76.63 387.69h0M78.68 380.65h0M68.16 381.19h0M89.6 363.21h0M60.79 397.77h0M60.36 402.73h0M89.29 348.37h0M63.16 403.47h0M65.89 387.91h0M88.85 365.77h0M70.17 388.03h0M87.69 361.46h0M84.71 379.41h0M78.39 371.67h0M77.67 397.2h0M78.95 393.44h0M72.85 397.44h0M70.5 394.66h0M72.14 392.42h0M74.2 398.05h0M69.23 398.52h0M71.31 394.32h0M64.7 393.09h0M65.6 394.51h0M80.18 393.8h0M69.49 392.16h0M73.73 392.11h0M62.47 397.35h0M47.58 288.3h0M52.49 288.3h0M53.23 290.75h0M54.94 320.43h0M49.3 336.13h0M53.72 340.55h0M117.98 351.58h0M87.32 340.55h0M77.02 353.3h0M84.38 395.24h0M86.83 398.19h0M79.47 395.24h0M48.81 349.13h0M51.26 351.58h0M52.49 356.49h0M46.85 358.94h0" stroke="#d87c82" stroke-width="2.6" stroke-linecap="round" fill="none"/>
<path d="M107.68 327.79h0M112.58 330h0M119.94 328.28h0M135.88 327.79h0M149.13 328.77h0M89.28 333.43h0M97.13 332.7h0M99.58 336.13h0M105.23 338.09h0M113.32 332.45h0M111.85 338.09h0M125.34 332.45h0M132.7 331.96h0M140.3 331.96h0M133.43 336.38h0M130.73 335.4h0M138.09 338.58h0M163.6 336.13h0M174.64 336.87h0M190.34 334.41h0M194.26 333.43h0M192.54 341.77h0M197.2 344.23h0M146.19 343.73h0M150.11 343h0M94.43 336.87h0M99.34 341.28h0M100.81 342.26h0M108.41 341.77h0M110.87 344.23h0M110.62 347.9h0M104 346.68h0M97.87 345.45h0M96.64 350.36h0M91.98 354.04h0M95.41 351.09h0M103.26 350.6h0M106.7 351.58h0M110.13 351.09h0M126.07 338.34h0M127.3 344.23h0M130.24 347.9h0M128.53 349.62h0M139.56 343.73h0M140.3 347.9h0M138.34 351.09h0M134.17 348.39h0M140.79 351.58h0M162.87 349.87h0M169 350.6h0M151.58 354.77h0M150.6 356.98h0M160.66 357.96h0M164.58 355.51h0M156.73 362.62h0M159.19 365.07h0M159.68 359.68h0M188.13 355.26h0M197.45 357.22h0M144.47 357.72h0M142.02 358.94h0M135.88 356.49h0M130.73 356.98h0M126.07 360.17h0M121.9 356h0M118.72 352.81h0M117 358.94h0M112.58 356.49h0M109.39 361.39h0M106.7 364.34h0M104 356.49h0M101.55 358.94h0M100.32 356h0M98.6 361.39h0M96.15 358.94h0M90.51 357.72h0M89.28 363.85h0M91 367.53h0M94.19 368.26h0M99.09 369.98h0M103.26 368.26h0M107.68 368.75h0M112.58 364.34h0M116.26 362.62h0M119.94 365.81h0M123.62 364.34h0M127.3 366.3h0M129.75 363.85h0M132.94 365.07h0M135.88 363.85h0M138.34 364.34h0M140.79 362.62h0M143.24 367.53h0M144.96 363.36h0M137.6 367.53h0M134.66 369.98h0M131.72 371.7h0M128.77 373.66h0M126.32 370.72h0M121.9 371.94h0M117.98 369.24h0M115.04 372.43h0M111.36 371.21h0M108.17 374.88h0M104.73 372.43h0M102.28 373.66h0M99.83 376.6h0M97.38 374.88h0M95.9 379.05h0M92.96 371.94h0M91 375.62h0M99.09 381.02h0M104 378.56h0M106.45 379.79h0M110.62 380.53h0M114.55 382.24h0M118.22 383.47h0M122.39 381.02h0M124.85 384.7h0M128.28 384.7h0M131.22 377.34h0M134.66 376.11h0M138.34 374.15h0M141.53 373.17h0M143.49 375.62h0M137.85 383.96h0M139.81 379.05h0M78.24 357.72h0M79.72 379.79h0M166.3 369.24h0M168.26 371.21h0M183.71 367.53h0M190.34 378.56h0M109.89 390.34h0M99.83 382.49h0M101.79 365.07h0M105.72 358.94h0M102.04 361.39h0M103.51 354.53h0M107.43 358.94h0M117.49 375.62h0M120.92 377.34h0M125.34 377.09h0M132.21 374.88h0M135.39 374.88h0M141.53 368.75h0M136.13 361.39h0M130.49 358.94h0M133.43 351.58h0M138.34 356.49h0M105.36 351.59h0M107.96 362.42h0M97.96 357.27h0M144.04 374.75h0M103.52 358.23h0M133.6 378.57h0M114.36 374.71h0M104.7 367.53h0M125.68 374.83h0M110.85 363.76h0M115.39 355.64h0M129.37 367.99h0M121.46 370.02h0M126.07 353.74h0M111.84 363.46h0M106.64 372.8h0M129.29 374.16h0M98.62 354.45h0M109.24 367.52h0M101.48 378.88h0M99.24 370.19h0M133.4 368.78h0M115.82 376.9h0M111.63 357.04h0M123.56 355.22h0M101.73 379.18h0M119.97 358.15h0M130.53 377.88h0M101.81 363.68h0M113.25 378h0M106.23 359.67h0M101.68 369.68h0M107.46 371.37h0M109.28 376.21h0M131.04 378.91h0M117.81 356.35h0M141.86 370.47h0M140.21 366.23h0M133.79 366.08h0M113.95 373.45h0M109.19 354.01h0M119.02 351.82h0M98.98 372.74h0M121.01 355.96h0M126.68 364.76h0M110.17 360.43h0M134.15 359.96h0M101.18 379.03h0M110.92 367.89h0M118.26 378.32h0" stroke="#137d92" stroke-width="2.6" stroke-linecap="round" fill="none"/>
<line x1="42.6" y1="256.8" x2="46.4" y2="256.8" stroke="#e8a9ad" stroke-width="0.9"/>
<line x1="50.8" y1="256.8" x2="55.2" y2="256.8" stroke="#e8a9ad" stroke-width="0.9"/>
<line x1="42.6" y1="254.6" x2="42.6" y2="259" stroke="#e8a9ad" stroke-width="0.9"/>
<line x1="55.2" y1="254.6" x2="55.2" y2="259" stroke="#e8a9ad" stroke-width="0.9"/>
<line x1="55.2" y1="256.8" x2="77.5" y2="256.8" stroke="#d87c82" stroke-width="1.7"/>
<rect x="46.4" y="252.3" width="4.4" height="9" fill="#f5c9cb" stroke="#e2959a" stroke-width="0.9" rx="0.6"/>
<line x1="48.6" y1="252.3" x2="48.6" y2="261.3" stroke="#e2959a" stroke-width="0.9"/>
<line x1="78.8" y1="256.8" x2="101.2" y2="256.8" stroke="#62b3c3" stroke-width="0.9"/>
<line x1="138.4" y1="256.8" x2="192.4" y2="256.8" stroke="#62b3c3" stroke-width="0.9"/>
<line x1="78.8" y1="254.6" x2="78.8" y2="259" stroke="#62b3c3" stroke-width="0.9"/>
<line x1="192.4" y1="254.6" x2="192.4" y2="259" stroke="#62b3c3" stroke-width="0.9"/>
<rect x="101.2" y="252.3" width="37.2" height="9" fill="#a8d4dc" stroke="#3e9db0" stroke-width="0.9" rx="0.6"/>
<line x1="119.4" y1="252.3" x2="119.4" y2="261.3" stroke="#3e9db0" stroke-width="0.9"/>
<circle cx="195" cy="256.8" r="1.1" fill="#137d92"/>
<circle cx="197.5" cy="256.8" r="1.1" fill="#137d92"/>
<line x1="79.2" y1="256.8" x2="90.2" y2="256.8" stroke="#6f6680" stroke-width="1.4"/>
<text x="234.5" y="249.6" font-size="26" text-anchor="start" fill="#231815" font-weight="bold">e</text>
<rect x="281.8" y="278.2" width="166.6" height="127.2" fill="none" stroke="#3c3c3c" stroke-width="1"/>
<line x1="279.3" y1="405.4" x2="281.8" y2="405.4" stroke="#3c3c3c" stroke-width="0.8"/>
<text x="277.8" y="408.3" font-size="8.6" text-anchor="end" fill="#231815" font-weight="normal" letter-spacing="-0.3">0</text>
<line x1="279.3" y1="341.8" x2="281.8" y2="341.8" stroke="#3c3c3c" stroke-width="0.8"/>
<text x="277.8" y="344.7" font-size="8.6" text-anchor="end" fill="#231815" font-weight="normal" letter-spacing="-0.3">500</text>
<line x1="279.3" y1="278.2" x2="281.8" y2="278.2" stroke="#3c3c3c" stroke-width="0.8"/>
<text x="277.8" y="281.1" font-size="8.6" text-anchor="end" fill="#231815" font-weight="normal" letter-spacing="-0.3">1000</text>
<line x1="281.8" y1="405.4" x2="281.8" y2="407.9" stroke="#3c3c3c" stroke-width="0.8"/>
<text x="281.65" y="416" font-size="8.6" text-anchor="middle" fill="#231815" font-weight="normal" letter-spacing="-0.3">0</text>
<line x1="365.1" y1="405.4" x2="365.1" y2="407.9" stroke="#3c3c3c" stroke-width="0.8"/>
<text x="364.95" y="416" font-size="8.6" text-anchor="middle" fill="#231815" font-weight="normal" letter-spacing="-0.3">15</text>
<line x1="448.4" y1="405.4" x2="448.4" y2="407.9" stroke="#3c3c3c" stroke-width="0.8"/>
<text x="448.25" y="416" font-size="8.6" text-anchor="middle" fill="#231815" font-weight="normal" letter-spacing="-0.3">30</text>
<text x="365.1" y="429" font-size="10.3" text-anchor="middle" fill="#231815" font-weight="normal">DiO (arbitrary unit)</text>
<text x="257.4" y="341.8" font-size="10.3" text-anchor="middle" fill="#231815" font-weight="normal" transform="rotate(-90 257.4 341.8)">Cell area (arbitrary unit)</text>
<path d="M301.51 390.46h0M299.12 401.45h0M302.45 384.82h0M294.31 382.53h0M290.26 386.8h0M300.43 393.1h0M301.17 401.68h0M298.75 383.35h0M302.09 395.15h0M306.77 394.92h0M294.99 393.81h0M303.29 394.73h0M299.34 393.3h0M288.77 388.74h0M288.45 388.1h0M289.19 393.61h0M303.85 390.09h0M300.2 389.5h0M300.21 398.88h0M301.59 399.59h0M306.39 391.09h0M294.07 395.33h0M301.78 387.12h0M300.1 388.68h0M294.17 398.6h0M295.74 385.93h0M288.57 395.9h0M301.32 387.13h0M291.01 391.5h0M307.19 394.48h0M307.27 399.66h0M288.45 387.9h0M288.43 390.88h0M301.78 396.88h0M283.87 400.26h0M284 400.08h0M295.8 381.77h0M299.01 385.45h0M293.31 383.84h0M290.41 396.56h0M283.02 397.69h0M308.53 399.08h0M285.51 397.52h0M294.62 394.65h0M300.04 393.26h0M288.91 401.35h0M308.17 397.51h0M291.39 398.37h0M300.88 393.04h0M308.47 399.71h0M297.93 393.93h0M293.12 397.23h0M296.18 391.9h0M293.41 389.09h0M300.2 389.14h0M296.99 394.45h0M293.86 395.81h0M310.68 400.63h0M284.61 396.39h0M293.47 391.96h0M283.79 401.07h0M306.51 400.22h0M295.8 390.36h0M306.34 393.64h0M307.86 398.72h0M301.41 384.46h0M303.35 393.6h0M303.32 389.73h0M301.66 401.1h0M310.43 399.86h0M297.47 398.41h0M295.77 385.99h0M286.07 391.91h0M301.69 401.51h0M307 395.33h0M299.47 383.55h0M303.04 385.73h0M295.98 400.18h0M301.38 385.97h0M302.66 388.06h0M301.4 388.85h0M288.77 399.96h0M296.5 397.38h0M295.77 397.03h0M307.69 401.39h0M301.29 388.95h0M294.41 385.94h0M309.24 398.39h0M288.06 394.76h0M302.38 389.41h0M299.96 387h0M294.82 399.73h0M307.74 397.13h0M292.78 396.06h0M298.22 384.08h0M297.16 400.61h0M301.6 400.5h0M295.12 393.55h0M290.45 397.69h0M288.82 400.05h0M299.68 382.4h0M301.29 392.95h0M293.06 394.72h0M284.9 393.01h0M302.6 391.08h0M294.38 383.91h0M298.28 388.83h0M291.19 397.3h0M291.43 386.87h0M303.25 387h0M294.59 386.03h0M291.99 400.08h0M292.93 384.8h0M291.21 385.3h0M300.39 391.09h0M291.61 390.28h0M287.01 394.79h0M284.84 396.81h0M303.41 397.04h0M295.59 400.58h0M291.98 389.2h0M294.09 391.79h0M301.53 386.73h0M297.12 383.05h0M294.7 399.09h0M301.33 397.72h0M290.52 389.24h0M294.57 384.39h0M303.01 401.08h0M290.84 389.27h0M307.43 396.22h0M301.25 396.03h0M285.82 395.11h0M289.05 395.06h0M295.07 400.43h0M283.77 401.02h0M286.84 392.39h0M291.97 384.98h0M295.58 392.86h0M303.45 391.09h0M296.59 382.23h0M307.24 393.46h0M290.08 387.74h0M310.15 399.13h0M295.62 393.65h0M310.34 399.87h0M299.82 393.11h0M303.06 386.71h0M295.25 399.44h0M299.33 398.2h0M288.22 398.44h0M307.03 395.18h0M304.88 388.22h0M299.92 391.1h0M299.12 386.82h0M293.71 385.94h0M290.3 395.25h0M299.7 385.39h0M308.59 398.51h0M302.14 400.81h0M308.96 395.05h0M297.05 397.62h0M297.12 395.87h0M287.18 395.22h0M306.6 395.97h0M299.37 398.11h0M285.27 399.68h0M287.17 394.08h0M297.11 382.85h0M288.53 389.64h0M291.98 384.39h0M296.46 390.07h0M299.61 398.84h0M299.56 388.9h0M304.93 392.67h0M297.42 395.73h0M292.73 399.65h0M301.67 392.65h0M302.58 397.58h0M295.4 387.79h0M301.03 387.51h0M307.05 399.47h0M303.74 390.34h0M299.12 399.58h0M303.25 393.47h0M300.99 391.99h0M292.35 386.45h0M302.39 389.75h0M292.73 388.27h0M307.11 392.7h0M302.72 392.42h0M296.37 384.79h0M301.38 393.37h0M292.3 393.96h0M289.03 399.43h0M302.9 393.57h0M304.67 397.09h0M297.27 383.1h0M303.79 390.01h0M308.32 399.39h0M295.89 392.57h0M292.46 396.21h0M297.42 381.23h0M297.54 395.58h0M290.01 395.38h0M298.89 395.75h0M304.3 388.55h0M285.97 393.15h0M290.78 395.43h0M288.89 401.75h0M303.16 392.99h0M295.88 396.74h0M296.42 390.36h0M293.88 399.32h0M289.6 397.6h0M297.98 388.46h0M287.12 401.54h0M297.48 399.97h0M300.08 399.49h0M299.18 400.81h0M296.53 400.14h0M305.44 390.82h0M294.35 392.66h0M302.03 395.27h0M298.63 387.63h0M298.69 392.3h0M306.43 398.86h0M299.8 383.11h0M286.27 398.77h0M297.64 395.05h0M293.85 386.23h0M297.49 391.54h0M285.3 394.63h0M296.61 398.73h0M303.31 396.14h0M298.64 401.03h0M286.62 392.03h0M292.03 394.95h0M286.89 394.25h0M299.16 388.13h0M294.69 381.81h0M286.49 396.03h0M306.13 389.91h0M294.71 387.28h0M306.01 401.58h0M295.61 395.24h0M298.75 401.55h0M305.78 391.73h0M298.29 401.08h0M294.35 388.32h0M297.48 384.65h0M300.45 384.52h0M307.98 400.95h0M292.05 390.65h0M296.69 381.95h0M289.38 393.45h0M304.41 390.29h0M291.53 398.21h0M294.48 401.78h0M284.71 401.51h0M291.66 397.22h0M301.13 387h0M294.24 394.72h0M303.82 394.9h0M296.98 399.46h0M285.58 397.19h0M297.95 393.87h0M296.53 390.91h0M299.75 384.12h0M284.06 399.99h0M306.09 395.12h0M300.53 390.35h0M294.4 385.05h0M290.31 398.19h0M309.64 401.39h0M291.91 392.69h0M302.49 384.64h0M296.86 389.94h0M293.76 389.2h0M294 388.56h0M283.95 399.39h0M300.68 391.82h0M309.71 399.38h0M289.29 398.52h0M294.3 388.83h0M286.45 391.03h0M287.28 393.18h0M292.38 394.18h0M307.6 397.7h0M295.56 385.09h0M295.59 397.95h0M306.94 393.4h0M286.27 395.43h0M304.01 386.74h0M288.47 387.44h0M300.81 383.36h0M299.91 401.71h0M300.04 401.68h0M295.29 397.97h0M292.37 401.71h0M308.99 399.55h0M297.97 386.37h0M308.48 399.54h0M295.71 401.04h0M286.89 395.55h0M287.29 389.69h0M304.44 389.71h0M302.51 398.61h0M293.31 391.27h0M291.34 399.05h0M289.09 393.21h0M303.76 400.54h0M290.54 393.94h0M289.93 388.13h0M296.73 394.44h0M302.62 394.2h0M294.85 394.9h0M305.9 396.14h0M300.11 392.6h0M308.17 394.82h0M301.17 397.56h0M303.44 388.51h0M297.7 398.92h0M288.66 391.03h0M300.02 384.38h0M284.85 394.83h0M302.77 397.06h0M298.88 385.8h0M295.13 398.58h0M306.59 390.73h0M291.27 393.63h0M294.38 396.04h0M296.33 397.32h0M309.6 396.42h0M310.19 399.05h0M290.23 393.32h0M300.62 392.05h0M298.39 387.35h0M298.45 400.42h0M285.08 399.91h0M305 391.27h0M288.78 399.35h0M297.3 392.28h0M296.44 397.22h0M290.7 393.97h0M290.04 391.18h0M294.41 386.58h0M298.02 383.17h0M286.97 393.11h0M287.54 401.67h0M306.26 391.73h0M288.92 395.23h0M285.93 401.22h0M301.41 386.5h0M307.01 395.09h0M296.84 397.03h0M290.38 390.49h0M302.51 392.7h0M300.53 395.54h0M286.82 390.57h0M302.21 397.62h0M304.7 394.71h0M306.45 399.73h0M296.04 391.65h0M299.13 383.55h0M307.34 400.65h0M289.59 393.51h0M294.46 387.53h0M291.89 398.87h0M303.62 388.64h0M290.38 388.64h0M283.51 398.43h0M291.97 400.61h0M296.19 395.32h0M303.94 401.12h0M294.31 401.66h0M287.46 395.36h0M304.78 396.72h0M290.06 397.24h0M292.95 386.87h0M287 404.6h0M290 404.6h0M293.5 404.6h0M299 404.6h0M301 404.6h0M291.2 359.18h0M295.54 348.21h0M301.73 376.78h0M294.34 357.87h0M300.02 374.17h0M296.17 358.24h0M296.21 340.71h0M300.16 373.81h0M304.25 376.32h0M295.31 360.02h0M288.93 374.68h0M301.28 357.57h0M293.97 366.95h0M304.18 365.55h0M300.43 345.26h0M298.38 375.39h0M294.78 377.6h0M297.95 374.94h0M297.89 350.9h0M295.45 367.23h0M295.63 367.02h0M290.26 371.55h0M304.31 369.08h0M298.81 362.34h0M294.99 355.99h0M301 374.71h0M297.46 347.63h0M299.27 371.91h0M298.85 375.73h0M294.34 368.54h0M303.55 377.28h0M301.74 343.54h0M299.95 365.05h0M293.07 353.96h0M302.11 347.43h0M297.67 352.04h0M293.05 348.78h0M297.62 340.32h0M296.08 352.5h0M302.81 360.3h0M299.4 290.75h0M300.62 288.3h0M304.55 288.3h0M304.55 320.43h0M294 336.13h0M301.11 340.55h0M329.32 394.51h0M333.24 397.45h0M295.72 349.13h0M290.81 358.94h0M298.17 351.58h0M292.04 365.07h0M305.53 349.13h0M307.98 351.58h0M288.36 374.88h0M287.87 383.47h0" stroke="#d87c82" stroke-width="2.6" stroke-linecap="round" fill="none"/>
<path d="M315.58 327.79h0M318.28 330.24h0M325.89 328.77h0M336.92 328.28h0M347.96 327.79h0M352.62 331.47h0M355.81 333.19h0M333.98 332.21h0M303.08 333.19h0M306.75 333.92h0M309.21 333.43h0M312.89 334.41h0M317.3 335.64h0M319.02 336.87h0M321.47 335.15h0M333.73 336.87h0M336.19 337.6h0M300.62 336.87h0M305.53 337.36h0M325.89 336.87h0M331.28 342.26h0M333.24 343h0M337.41 345.94h0M349.19 339.81h0M352.87 342.75h0M357.28 345.21h0M369.3 342.51h0M372.49 336.13h0M386.47 334.17h0M396.28 339.32h0M396.77 344.96h0M393.34 344.72h0M415.41 335.64h0M424.49 342.26h0M296.21 344.23h0M309.21 343h0M311.66 344.23h0M313.62 347.17h0M315.34 349.13h0M317.79 347.9h0M320.24 349.13h0M322.7 351.58h0M325.15 352.81h0M327.6 355.26h0M330.06 356.49h0M333.73 356h0M338.64 358.94h0M341.09 358.45h0M349.43 347.41h0M353.36 350.36h0M352.13 357.72h0M354.58 358.94h0M356.79 358.94h0M359.49 355.26h0M360.96 354.04h0M361.94 356.49h0M373.72 354.04h0M374.94 360.17h0M378.62 362.62h0M376.17 365.07h0M386.47 357.72h0M388.19 358.94h0M394.56 359.43h0M396.77 354.04h0M385.24 365.81h0M387.7 369.24h0M379.6 371.94h0M366.85 371.21h0M363.41 363.85h0M357.04 364.34h0M358.51 372.43h0M361.94 379.79h0M357.53 382.24h0M354.09 376.11h0M345.51 373.66h0M345.51 377.34h0M341.09 371.21h0M339.87 366.3h0M337.9 362.62h0M334.47 363.85h0M334.96 366.3h0M331.28 362.62h0M328.83 357.72h0M326.38 358.94h0M323.92 356.49h0M321.47 358.94h0M319.02 356.98h0M315.34 354.04h0M312.89 351.58h0M310.43 351.58h0M306.75 350.36h0M304.3 351.58h0M301.85 354.04h0M299.4 356.49h0M298.17 358.94h0M296.94 362.62h0M298.66 365.07h0M300.62 362.62h0M303.08 361.39h0M305.53 360.17h0M307.98 359.43h0M310.43 361.39h0M312.89 363.85h0M315.34 365.07h0M317.79 362.62h0M320.24 363.85h0M322.7 365.07h0M325.15 365.81h0M327.6 368.75h0M330.06 368.26h0M332.51 371.21h0M334.96 369.98h0M337.41 372.43h0M339.87 368.75h0M311.66 367.53h0M314.11 369.98h0M316.57 372.43h0M319.02 370.72h0M321.47 373.66h0M323.92 372.43h0M326.38 374.88h0M328.83 377.34h0M307.98 369.98h0M305.53 373.66h0M303.08 377.34h0M300.62 381.02h0M298.17 378.56h0M295.72 373.66h0M309.21 381.02h0M312.89 384.7h0M317.79 382.24h0M321.47 381.02h0M326.38 383.47h0M328.83 384.7h0M312.89 392.05h0M315.34 390.34h0M294.98 393.28h0M294.49 405.54h0M413.45 367.53h0M422.77 379.3h0M385.98 378.56h0M357.53 367.53h0M343.55 368.26h0M346 362.62h0M301.85 345.45h0M304.3 341.77h0M299.4 347.9h0M315.34 339.32h0M320.24 341.77h0M323.92 344.23h0M327.6 346.68h0M330.06 349.13h0M333.73 351.58h0M336.68 354.04h0M343.55 354.04h0M307.98 355.26h0M305.53 365.07h0M302.58 367.53h0M299.64 371.21h0M296.94 374.88h0M317.79 377.34h0M323.92 378.56h0M331.28 378.56h0M336.19 374.88h0M316.67 363.41h0M336.03 354.16h0M322.72 357.25h0M329.71 362.66h0M306.6 361.87h0M308.26 348.14h0M302.88 356.77h0M298.81 369.42h0M331.68 347.28h0M320.11 359.39h0M314.9 348.79h0M337.37 355.41h0M337.04 358.56h0M306.91 354.07h0M308.49 370.37h0M332.75 370.47h0M309.27 355.38h0M320.59 367.63h0M327.64 371.47h0M330.06 361.82h0M327.05 369.17h0M306.2 375.46h0M320.62 365.38h0M326.16 367.52h0M301.81 348.92h0M310.65 350.58h0M329.32 360.59h0M305.76 358.54h0M306.38 368.7h0M314.88 371.76h0M327.76 360.35h0M322.12 376.08h0M328.19 359.19h0M314.64 371.74h0M324.42 367.12h0M304.85 359.74h0M298.88 362.45h0M299 365.83h0M304.24 348.88h0M305.02 358.96h0" stroke="#137d92" stroke-width="2.6" stroke-linecap="round" fill="none"/>
<line x1="283.2" y1="256.8" x2="293.1" y2="256.8" stroke="#e8a9ad" stroke-width="0.9"/>
<line x1="299.7" y1="256.8" x2="307.6" y2="256.8" stroke="#e8a9ad" stroke-width="0.9"/>
<line x1="283.2" y1="254.6" x2="283.2" y2="259" stroke="#e8a9ad" stroke-width="0.9"/>
<line x1="307.6" y1="254.6" x2="307.6" y2="259" stroke="#e8a9ad" stroke-width="0.9"/>
<rect x="293.1" y="252.3" width="6.6" height="9" fill="#f5c9cb" stroke="#e2959a" stroke-width="0.9" rx="0.6"/>
<line x1="296.4" y1="252.3" x2="296.4" y2="261.3" stroke="#e2959a" stroke-width="0.9"/>
<line x1="306.5" y1="256.8" x2="309.4" y2="256.8" stroke="#62b3c3" stroke-width="0.9"/>
<line x1="338.3" y1="256.8" x2="379.8" y2="256.8" stroke="#62b3c3" stroke-width="0.9"/>
<line x1="306.5" y1="254.6" x2="306.5" y2="259" stroke="#62b3c3" stroke-width="0.9"/>
<line x1="379.8" y1="254.6" x2="379.8" y2="259" stroke="#62b3c3" stroke-width="0.9"/>
<rect x="309.4" y="252.3" width="28.9" height="9" fill="#a8d4dc" stroke="#3e9db0" stroke-width="0.9" rx="0.6"/>
<line x1="321.3" y1="252.3" x2="321.3" y2="261.3" stroke="#3e9db0" stroke-width="0.9"/>
<circle cx="385" cy="256.8" r="1.1" fill="#137d92"/>
<circle cx="387.5" cy="256.8" r="1.1" fill="#137d92"/>
<circle cx="390" cy="256.8" r="1.1" fill="#137d92"/>
<circle cx="392.5" cy="256.8" r="1.1" fill="#137d92"/>
<circle cx="395" cy="256.8" r="1.1" fill="#137d92"/>
<circle cx="397.5" cy="256.8" r="1.1" fill="#137d92"/>
<circle cx="413" cy="256.8" r="1.1" fill="#137d92"/>
<circle cx="416" cy="256.8" r="1.1" fill="#137d92"/>
<circle cx="423.2" cy="256.8" r="1.1" fill="#137d92"/>
<line x1="233.8" y1="350.4" x2="233.8" y2="327.9" stroke="#62b3c3" stroke-width="1"/>
<line x1="231.2" y1="327.9" x2="236.4" y2="327.9" stroke="#62b3c3" stroke-width="1"/>
<line x1="233.8" y1="368.7" x2="233.8" y2="390" stroke="#7d6f86" stroke-width="1.2"/>
<line x1="231.2" y1="390" x2="236.4" y2="390" stroke="#3e9db0" stroke-width="1"/>
<rect x="228.15" y="350.4" width="11.3" height="18.3" fill="#a8d4dc" stroke="#3e9db0" stroke-width="0.9" rx="0.6"/>
<line x1="228.15" y1="359.3" x2="239.45" y2="359.3" stroke="#3e9db0" stroke-width="0.9"/>
<circle cx="233.8" cy="287.9" r="0.85" fill="#d87c82"/>
<circle cx="233.8" cy="291" r="0.85" fill="#d87c82"/>
<circle cx="233.8" cy="316.4" r="0.85" fill="#d87c82"/>
<circle cx="233.8" cy="335.8" r="0.85" fill="#d87c82"/>
<circle cx="233.8" cy="340.5" r="0.85" fill="#d87c82"/>
<line x1="233.8" y1="397" x2="233.8" y2="400.6" stroke="#e39aa0" stroke-width="0.9"/>
<line x1="231.2" y1="400.6" x2="236.4" y2="400.6" stroke="#e39aa0" stroke-width="0.9"/>
<line x1="231.2" y1="392" x2="236.4" y2="392" stroke="#e39aa0" stroke-width="0.9"/>
<rect x="228.15" y="394.3" width="11.3" height="2.7" fill="#f5c9cb" stroke="#e2959a" stroke-width="0.8" rx="0.5"/>
<line x1="228.15" y1="395.6" x2="239.45" y2="395.6" stroke="#e2959a" stroke-width="0.7"/>
<line x1="476.1" y1="350.7" x2="476.1" y2="327.6" stroke="#62b3c3" stroke-width="1"/>
<line x1="473.5" y1="327.6" x2="478.7" y2="327.6" stroke="#62b3c3" stroke-width="1"/>
<line x1="476.1" y1="369.2" x2="476.1" y2="386" stroke="#8a6f7c" stroke-width="1.2"/>
<line x1="473.5" y1="388.4" x2="478.7" y2="388.4" stroke="#3e9db0" stroke-width="1"/>
<rect x="470.6" y="350.7" width="11" height="18.5" fill="#a8d4dc" stroke="#3e9db0" stroke-width="0.9" rx="0.6"/>
<line x1="470.6" y1="359.3" x2="481.6" y2="359.3" stroke="#3e9db0" stroke-width="0.9"/>
<circle cx="476.1" cy="288" r="0.85" fill="#d87c82"/>
<circle cx="476.1" cy="291" r="0.85" fill="#d87c82"/>
<circle cx="476.1" cy="320.8" r="0.85" fill="#d87c82"/>
<circle cx="476.1" cy="335.8" r="0.85" fill="#d87c82"/>
<circle cx="476.1" cy="340.5" r="0.85" fill="#d87c82"/>
<circle cx="476.1" cy="346" r="0.85" fill="#d87c82"/>
<line x1="476.1" y1="397.5" x2="476.1" y2="400.6" stroke="#e39aa0" stroke-width="0.9"/>
<line x1="473.5" y1="400.6" x2="478.7" y2="400.6" stroke="#e39aa0" stroke-width="0.9"/>
<line x1="473.5" y1="386" x2="478.7" y2="386" stroke="#e39aa0" stroke-width="0.9"/>
<rect x="470.6" y="394.3" width="11" height="3.2" fill="#f5c9cb" stroke="#e2959a" stroke-width="0.8" rx="0.5"/>
<line x1="470.6" y1="396" x2="481.6" y2="396" stroke="#e2959a" stroke-width="0.7"/>
<circle cx="476.1" cy="404.9" r="0.95" fill="#137d92"/>
<text x="218.5" y="460.3" font-size="26" text-anchor="start" fill="#231815" font-weight="bold">h</text>
<rect x="235.3" y="472.3" width="166.3" height="127.1" fill="none" stroke="#3c3c3c" stroke-width="1"/>
<line x1="232.8" y1="599.4" x2="235.3" y2="599.4" stroke="#3c3c3c" stroke-width="0.8"/>
<text x="231.3" y="602.3" font-size="8.6" text-anchor="end" fill="#231815" font-weight="normal" letter-spacing="-0.3">0</text>
<line x1="232.8" y1="535.85" x2="235.3" y2="535.85" stroke="#3c3c3c" stroke-width="0.8"/>
<text x="231.3" y="538.75" font-size="8.6" text-anchor="end" fill="#231815" font-weight="normal" letter-spacing="-0.3">15</text>
<line x1="232.8" y1="472.3" x2="235.3" y2="472.3" stroke="#3c3c3c" stroke-width="0.8"/>
<text x="231.3" y="475.2" font-size="8.6" text-anchor="end" fill="#231815" font-weight="normal" letter-spacing="-0.3">30</text>
<line x1="235.3" y1="599.4" x2="235.3" y2="601.9" stroke="#3c3c3c" stroke-width="0.8"/>
<text x="235.15" y="610" font-size="8.6" text-anchor="middle" fill="#231815" font-weight="normal" letter-spacing="-0.3">0</text>
<line x1="318.45" y1="599.4" x2="318.45" y2="601.9" stroke="#3c3c3c" stroke-width="0.8"/>
<text x="318.3" y="610" font-size="8.6" text-anchor="middle" fill="#231815" font-weight="normal" letter-spacing="-0.3">15</text>
<line x1="401.6" y1="599.4" x2="401.6" y2="601.9" stroke="#3c3c3c" stroke-width="0.8"/>
<text x="401.45" y="610" font-size="8.6" text-anchor="middle" fill="#231815" font-weight="normal" letter-spacing="-0.3">30</text>
<text x="318.45" y="624" font-size="10.3" text-anchor="middle" fill="#231815" font-weight="normal">Hoechst (arbitrary unit)</text>
<text x="220.2" y="535.85" font-size="10.3" text-anchor="middle" fill="#231815" font-weight="normal" transform="rotate(-90 220.2 535.85)">DiO (arbitrary unit)</text>
<path d="M249.92 595.12h0M239.4 596h0M248.58 588.85h0M244.29 592.64h0M242.1 592.93h0M247.1 596.52h0M242.09 590.04h0M245.35 598.24h0M249.58 584.48h0M247.52 585.96h0M241.32 592.35h0M247.7 586.2h0M249.57 588.83h0M240.69 586.06h0M248.95 585.8h0M247.83 598.51h0M238.84 592.1h0M242.27 594.24h0M248.97 588.43h0M241.96 587.35h0M248.61 595.07h0M248.74 591.96h0M249.08 585.55h0M249.01 589.16h0M243.06 596.08h0M247.04 584.39h0M241.01 597.43h0M239.13 594.44h0M241.48 589.5h0M248.37 595.72h0M238.38 596.95h0M238.23 592.94h0M244.8 585.05h0M250.2 593.29h0M249.9 594.04h0M246.16 585.61h0M242.93 592.31h0M238.69 585.51h0M246.09 592.45h0M243.74 596.6h0M244.33 594.28h0M239.95 594.91h0M250.07 593.22h0M243.54 594.31h0M238.67 596h0M244.12 589.03h0M244.37 586.87h0M240.72 595.41h0M243.16 595.97h0M250.26 594.79h0M240.17 596.37h0M243.62 594.93h0M239.56 587.46h0M246.04 593.25h0M238.96 595.44h0M249.93 590.13h0M243.6 592.34h0M241.38 589.8h0M247.23 586.49h0M242.3 597.94h0M250.31 585.98h0M249.78 585.25h0M243.6 586.88h0M239.98 592.05h0M241.53 593.87h0M240.3 594.52h0M248.75 591.42h0M245.79 595.31h0M248.24 587.85h0M247.71 589.81h0M245.29 596.36h0M247.58 587.42h0M242.02 584.97h0M241.22 596.71h0M247.88 593.51h0M248.94 595.92h0M241.54 585.77h0M248.26 584.15h0M241.75 588.34h0M240.96 586.44h0M248 592.22h0M248.57 589.46h0M245.4 589.26h0M243.28 595.09h0M245.67 586.84h0M246.29 596h0M244 598.11h0M248.52 587.06h0M247.38 593.42h0M246.28 587.14h0M238.89 586.34h0M249.41 591.84h0M244.89 598.28h0M244.21 592.93h0M240.74 583.84h0M244.71 590.32h0M241.31 584.51h0M240.47 587.32h0M243.34 594.68h0M238.32 593.22h0M241.06 593.53h0M243.19 583.64h0M240.81 591.32h0M242 589.37h0M244.8 589.98h0M243.26 588.75h0M245.73 594.65h0M241.35 594.74h0M244.32 594.8h0M246.7 587.37h0M244.41 586.69h0M238.85 594.54h0M248.82 593.92h0M245.33 594.97h0M243.97 593.57h0M246.63 587.49h0M243.39 585.05h0M245.57 585.44h0M238.42 590.14h0M246.57 591.26h0M240 586.2h0M244.05 597.27h0M240.61 596.47h0M243.21 588.5h0M243.18 588.92h0M240.47 591.94h0M243.48 590.94h0M242.08 593.29h0M238.51 597.91h0M240.57 590.33h0M244.82 593.53h0M243.93 593.72h0M240.3 587.98h0M238.79 596.1h0M245.48 592.91h0M240.47 595.32h0M239.36 594.39h0M238.3 597.42h0M243.78 592.57h0M247.32 585.63h0M239.07 589.97h0M238.44 593.18h0M246.63 597.77h0M249.48 586.01h0M246.73 597.6h0M249.69 588.04h0M245.06 584.02h0M241 598.26h0M241.68 593.74h0M245.93 596.94h0M242.1 587.43h0M247.13 594.2h0M244.79 584.9h0M247.54 589.8h0M240.97 593.39h0M242.75 587.44h0M246.72 584.06h0M246.91 589.56h0M242.16 585.94h0M246.01 596.91h0M246.96 595.94h0M238.01 594.97h0M242.91 594.03h0M245.07 585.98h0M245.59 584.93h0M240.36 587.38h0M244.22 594.14h0M248.25 584.4h0M243.03 585.59h0M240.35 587.64h0M245.22 592.69h0M243.73 583.89h0M246.48 589.88h0M250.23 590.36h0M248.46 595.73h0M240.24 592.92h0M237.8 589.61h0M250.38 586.25h0M245.05 596.94h0M249.32 595.96h0M243.52 595.56h0M240.16 585.32h0M249.08 595.32h0M240.13 591.38h0M250.46 593.09h0M240.22 595.72h0M239.66 592.82h0M244.89 593.9h0M245.4 596.3h0M246.49 586.55h0M248.37 587.49h0M241.57 592.34h0M246.68 596.45h0M239.01 594h0M250.4 589.12h0M240.55 594.06h0M244.5 595.62h0M248.2 586h0M244.52 596h0M243.34 586.86h0M247.43 585.42h0M240.46 589.66h0M246.01 588.12h0M240.88 584.24h0M246.5 598.26h0M247.37 587.58h0M242.13 598.6h0M247.13 591.25h0M240.62 592.94h0M249.32 591.49h0M240 598.42h0M247.2 593.17h0M249.28 591.2h0M244.65 585.85h0M238.8 585.76h0M238.52 584.36h0M248.51 587.38h0M238.39 597.56h0M240.88 597.97h0M246.74 584.23h0M243.39 585.4h0M239.89 584.91h0M248.53 588.78h0M243.88 587.98h0M242.46 598h0M240.4 592.23h0M246.51 597.86h0M243.66 590.3h0M240.94 595.17h0M239.55 584.03h0M238.7 594.3h0M247.1 595.72h0M246.97 584.27h0M240.98 590.66h0M239.91 592.69h0M246.62 592.09h0M244.72 585.03h0M239.15 597.28h0M242.2 594.35h0M245.06 590.32h0M253.25 588.51h0M253.61 590.58h0M250.4 592.8h0M253.2 591.29h0M250.54 588.6h0M251.56 592.41h0M252.7 591.58h0M251.86 586.82h0M252.33 585.51h0M253.48 590.05h0M253.18 587.84h0M254.08 592.14h0M253.27 586.56h0M251.96 585.35h0M250.65 590.46h0M253.13 592.74h0M251.37 587.96h0M251.97 586.52h0M250.55 588.81h0M250.95 590.36h0M251.84 591.66h0M252.94 587.5h0M257 585h0M258.5 586h0M260.5 588h0M262 588h0M266 587h0M266.5 591.5h0M256 590.5h0M260 590h0M248.98 551.22h0M260.26 578.7h0M266.4 592.19h0M256.58 590.96h0M258.3 585.32h0M261.98 587.28h0M264.43 586.05h0M266.89 587.77h0" stroke="#d87c82" stroke-width="2.6" stroke-linecap="round" fill="none"/>
<path d="M288.72 488.43h0M300.24 495.3h0M302.94 499.47h0M313.98 521.79h0M317.17 525.47h0M383.39 521.79h0M387.32 519.09h0M287.24 536.26h0M289.94 532.83h0M299.26 534.55h0M327.96 532.83h0M327.47 538.72h0M328.45 543.13h0M340.22 538.72h0M354.7 546.07h0M371.62 535.28h0M372.85 532.09h0M298.77 546.07h0M296.32 552.94h0M290.19 557.11h0M293.87 558.34h0M299.26 562.75h0M301.72 563.24h0M311.04 555.39h0M318.89 550h0M321.34 551.72h0M319.62 556.62h0M327.22 555.39h0M331.39 559.07h0M334.34 558.34h0M338.02 555.39h0M339.24 552.45h0M341.21 551.22h0M348.32 561.53h0M350.77 559.81h0M349.79 566.43h0M349.05 572.56h0M338.02 571.34h0M337.53 568.88h0M328.21 568.88h0M330.17 572.56h0M327.72 575.02h0M325.26 574.53h0M322.07 572.56h0M319.62 571.34h0M318.39 568.88h0M316.43 564.72h0M314.72 563.24h0M309.07 566.43h0M307.36 565.21h0M311.04 562.26h0M319.62 563.24h0M324.28 560.3h0M335.07 563.24h0M374.81 551.96h0M382.17 561.77h0M376.04 564.72h0M370.39 567.66h0M367.45 573.3h0M360.09 568.88h0M380.94 577.47h0M376.77 582.38h0M385.6 584.34h0M391.98 585.32h0M385.11 586.79h0M379.71 587.28h0M363.77 585.32h0M358.13 587.28h0M360.58 594.64h0M350.28 592.19h0M352.73 588.51h0M355.19 580.41h0M350.28 581.15h0M346.6 584.34h0M342.43 583.6h0M339.24 581.88h0M336.79 583.6h0M334.34 585.32h0M331.88 579.92h0M329.43 581.88h0M326.98 583.6h0M323.79 581.88h0M320.85 580.41h0M318.39 577.96h0M315.94 576.24h0M313.49 579.92h0M311.04 581.88h0M308.58 582.38h0M306.13 581.15h0M304.17 579.92h0M301.23 584.34h0M297.55 587.28h0M295.09 589.24h0M291.41 584.83h0M289.45 582.38h0M287 582.38h0M285.28 586.05h0M282.83 587.28h0M280.38 589.73h0M277.92 587.28h0M276.21 584.34h0M274.24 586.79h0M271.79 586.05h0M270.57 592.19h0M273.02 593.41h0M281.6 592.19h0M286.51 592.19h0M290.19 589.73h0M297.55 589.73h0M301.23 587.28h0M306.13 590.96h0M308.58 590.22h0M311.04 589.24h0M314.72 591.7h0M317.17 589.73h0M320.36 587.28h0M323.3 588.51h0M326.24 586.79h0M329.43 588.51h0M332.62 589.73h0M335.56 587.77h0M339.98 587.28h0M342.92 589.24h0M346.6 586.05h0M349.05 593.41h0M330.66 594.64h0M326.98 591.7h0M319.62 592.19h0M315.94 594.15h0M284.06 579.92h0M287.73 575.02h0M291.41 572.56h0M292.64 577.47h0M286.51 571.34h0M284.06 575.02h0M279.89 565.94h0M276.21 568.88h0M275.47 573.79h0M274.24 579.92h0M277.92 581.15h0M293.87 568.88h0M296.32 566.43h0M298.28 572.56h0M301.23 572.07h0M304.17 576.24h0M307.36 573.79h0M311.04 575.02h0M314.72 572.56h0M336.79 575.02h0M340.47 577.96h0M344.15 575.02h0M331.15 577.47h0M333.11 581.15h0M322.07 583.6h0M325.26 579.92h0M335.56 579.92h0M342.43 579.92h0M310.55 569.13h0M313.98 583.6h0M304.66 587.28h0M296.32 584.83h0M299.26 581.88h0" stroke="#137d92" stroke-width="2.6" stroke-linecap="round" fill="none"/>
<line x1="238.1" y1="450.9" x2="241.6" y2="450.9" stroke="#e8a9ad" stroke-width="0.9"/>
<line x1="245.5" y1="450.9" x2="249.7" y2="450.9" stroke="#e8a9ad" stroke-width="0.9"/>
<line x1="238.1" y1="448.7" x2="238.1" y2="453.1" stroke="#e8a9ad" stroke-width="0.9"/>
<line x1="249.7" y1="448.7" x2="249.7" y2="453.1" stroke="#e8a9ad" stroke-width="0.9"/>
<line x1="250.3" y1="450.9" x2="264" y2="450.9" stroke="#d87c82" stroke-width="1.7" stroke-dasharray="2.6 1.4"/>
<rect x="241.6" y="446.3" width="3.9" height="9.2" fill="#f5c9cb" stroke="#e2959a" stroke-width="0.9" rx="0.6"/>
<line x1="243.5" y1="446.3" x2="243.5" y2="455.5" stroke="#e2959a" stroke-width="0.9"/>
<line x1="268.4" y1="450.9" x2="297.8" y2="450.9" stroke="#62b3c3" stroke-width="0.9"/>
<line x1="334.6" y1="450.9" x2="387.1" y2="450.9" stroke="#62b3c3" stroke-width="0.9"/>
<line x1="268.4" y1="448.7" x2="268.4" y2="453.1" stroke="#62b3c3" stroke-width="0.9"/>
<line x1="387.1" y1="448.7" x2="387.1" y2="453.1" stroke="#62b3c3" stroke-width="0.9"/>
<rect x="297.8" y="446.3" width="36.8" height="9.2" fill="#a8d4dc" stroke="#3e9db0" stroke-width="0.9" rx="0.6"/>
<line x1="319.9" y1="446.3" x2="319.9" y2="455.5" stroke="#3e9db0" stroke-width="0.9"/>
<circle cx="392.4" cy="450.9" r="1.1" fill="#137d92"/>
<line x1="429.6" y1="566.1" x2="429.6" y2="534.8" stroke="#62b3c3" stroke-width="1"/>
<line x1="427" y1="534.8" x2="432.2" y2="534.8" stroke="#62b3c3" stroke-width="1"/>
<line x1="429.6" y1="586.3" x2="429.6" y2="595.5" stroke="#62b3c3" stroke-width="1"/>
<line x1="427" y1="595.5" x2="432.2" y2="595.5" stroke="#3e9db0" stroke-width="1"/>
<rect x="423.6" y="566.1" width="12" height="20.2" fill="#a8d4dc" stroke="#3e9db0" stroke-width="0.9" rx="0.6"/>
<line x1="423.6" y1="580.4" x2="435.6" y2="580.4" stroke="#3e9db0" stroke-width="0.9"/>
<circle cx="429.6" cy="488.6" r="0.95" fill="#137d92"/>
<circle cx="429.6" cy="493" r="0.95" fill="#137d92"/>
<circle cx="429.6" cy="497" r="0.95" fill="#137d92"/>
<circle cx="429.6" cy="506" r="0.95" fill="#137d92"/>
<circle cx="429.6" cy="510" r="0.95" fill="#137d92"/>
<circle cx="429.6" cy="513" r="0.95" fill="#137d92"/>
<circle cx="429.6" cy="521" r="0.95" fill="#137d92"/>
<circle cx="429.6" cy="526" r="0.95" fill="#137d92"/>
<circle cx="429.6" cy="530" r="0.95" fill="#137d92"/>
<line x1="429.6" y1="593.1" x2="429.6" y2="598.5" stroke="#e39aa0" stroke-width="0.9"/>
<line x1="427" y1="598.5" x2="432.2" y2="598.5" stroke="#e39aa0" stroke-width="0.9"/>
<line x1="427" y1="588" x2="432.2" y2="588" stroke="#e39aa0" stroke-width="0.9"/>
<rect x="423.6" y="589.2" width="12" height="3.9" fill="#f5c9cb" stroke="#e2959a" stroke-width="0.8" rx="0.5"/>
<line x1="423.6" y1="591.1" x2="435.6" y2="591.1" stroke="#e2959a" stroke-width="0.7"/>
<text x="451.3" y="460.2" font-size="26" text-anchor="start" fill="#231815" font-weight="bold">i</text>
<rect x="484.5" y="472.4" width="167.3" height="126.9" fill="none" stroke="#3c3c3c" stroke-width="1"/>
<line x1="482" y1="599.3" x2="484.5" y2="599.3" stroke="#3c3c3c" stroke-width="0.8"/>
<text x="480.5" y="602.2" font-size="8.6" text-anchor="end" fill="#231815" font-weight="normal" letter-spacing="-0.3">0</text>
<line x1="482" y1="535.85" x2="484.5" y2="535.85" stroke="#3c3c3c" stroke-width="0.8"/>
<text x="480.5" y="538.75" font-size="8.6" text-anchor="end" fill="#231815" font-weight="normal" letter-spacing="-0.3">500</text>
<line x1="482" y1="472.4" x2="484.5" y2="472.4" stroke="#3c3c3c" stroke-width="0.8"/>
<text x="480.5" y="475.3" font-size="8.6" text-anchor="end" fill="#231815" font-weight="normal" letter-spacing="-0.3">1000</text>
<line x1="484.5" y1="599.3" x2="484.5" y2="601.8" stroke="#3c3c3c" stroke-width="0.8"/>
<text x="484.35" y="609.9" font-size="8.6" text-anchor="middle" fill="#231815" font-weight="normal" letter-spacing="-0.3">0</text>
<line x1="568.15" y1="599.3" x2="568.15" y2="601.8" stroke="#3c3c3c" stroke-width="0.8"/>
<text x="568" y="609.9" font-size="8.6" text-anchor="middle" fill="#231815" font-weight="normal" letter-spacing="-0.3">15</text>
<line x1="651.8" y1="599.3" x2="651.8" y2="601.8" stroke="#3c3c3c" stroke-width="0.8"/>
<text x="651.65" y="609.9" font-size="8.6" text-anchor="middle" fill="#231815" font-weight="normal" letter-spacing="-0.3">30</text>
<text x="568.15" y="624" font-size="10.3" text-anchor="middle" fill="#231815" font-weight="normal">Hoechst (arbitrary unit)</text>
<text x="459.8" y="535.85" font-size="10.3" text-anchor="middle" fill="#231815" font-weight="normal" transform="rotate(-90 459.8 535.85)">Cell area (arbitrary unit)</text>
<path d="M500.5 589.72h0M493.59 584.06h0M502.37 591.09h0M488.77 590.1h0M493.25 595.8h0M499.24 586.71h0M494.75 580.85h0M496.12 580.57h0M496.01 587.61h0M499.51 581.28h0M495.7 589.09h0M491.58 592.63h0M493.76 580.88h0M500.47 584.03h0M493.56 582.37h0M499.01 595.4h0M497.46 582.5h0M497.14 595.97h0M490.35 585.28h0M494.59 582.56h0M491.9 591.9h0M495.41 573.6h0M496.32 595.65h0M492.73 581.48h0M501.23 586.39h0M495.61 576.86h0M496.02 576.32h0M496.25 590.85h0M487.43 590.51h0M492.13 581.14h0M496.2 574.48h0M493.15 575.76h0M497.19 578.11h0M500.82 593.68h0M489.02 592.19h0M502.12 591.45h0M492.82 580.71h0M491.44 581.53h0M496.59 591.85h0M493.02 591.12h0M495.22 574.73h0M502.45 589.52h0M496.23 581.46h0M494.94 573.98h0M501.77 591.87h0M493.88 584.91h0M487.62 593.62h0M491.11 581.78h0M497.18 582.84h0M497.5 578.4h0M494.22 574.06h0M492.97 592.74h0M503.68 595.36h0M494.78 591.92h0M497.32 581.25h0M493.7 581.61h0M497.39 584.32h0M494.34 581.09h0M496.35 575.34h0M499.08 583.79h0M499.97 586.37h0M492.08 579.54h0M495.88 575.62h0M497.6 582.43h0M488.11 592.78h0M495.91 574.49h0M496.5 584.76h0M493.47 586.79h0M497.13 578.17h0M496.43 581.02h0M499.11 595.04h0M497.6 593.02h0M498.91 587.08h0M492.76 588.78h0M489.21 589.89h0M495.87 575.49h0M493.49 577.52h0M490.6 590.98h0M491.17 579.82h0M499.09 580.11h0M489.34 585.79h0M498.3 585.94h0M493.88 584.96h0M493.65 593.19h0M501.37 590.64h0M493.56 582.98h0M495.87 593.78h0M494.41 573.52h0M493.13 592.78h0M496.75 581.71h0M493.48 579.89h0M500.3 590.92h0M502.16 594.96h0M496.49 590.72h0M501.95 590.13h0M490.09 589.46h0M497.62 595.31h0M499.71 581.35h0M497.96 592.2h0M491.2 591.04h0M487.28 591.28h0M503.22 594.52h0M497.69 593.76h0M493.9 587.12h0M498.51 583.75h0M491.78 594.71h0M497.94 581.74h0M493.34 585.26h0M495.52 581.31h0M490.05 590.25h0M500.02 594.26h0M496.07 595.56h0M497.52 577.06h0M502.2 590.47h0M493.81 595.77h0M500.17 586.55h0M487.83 595.43h0M495.77 587.07h0M492.47 592.81h0M499.81 584.45h0M500.55 586.1h0M492.88 590.02h0M492.16 584.45h0M497.89 595.65h0M498.19 592.73h0M496.93 579.74h0M490.9 588.89h0M496.64 578.5h0M503.24 595.89h0M494.67 577.86h0M492.55 579.88h0M496.31 574.27h0M493.17 587.96h0M500.82 590.6h0M501.14 585.38h0M497.58 587.23h0M501.25 591.83h0M494.61 582.76h0M491.05 587.84h0M502.4 589.48h0M494.6 582.06h0M494.66 586.94h0M500.01 593.57h0M494.24 574.11h0M489.48 594.75h0M487.82 593.53h0M491.21 579.43h0M492.21 590.13h0M501.79 594.25h0M498.97 582.21h0M498.15 592.24h0M490.8 581.73h0M491.57 589.72h0M498.89 586.74h0M492.38 586.92h0M490.2 595.54h0M496.85 590.11h0M492.98 577.76h0M497.95 595.53h0M494.43 584.71h0M496.82 595.56h0M494.97 595.03h0M490.23 594.81h0M495.72 591.8h0M492.58 593.23h0M490.99 580.12h0M490.95 595.6h0M494.67 593.8h0M495.08 577.11h0M501.39 588.63h0M497.25 580.4h0M498.49 586.35h0M503.61 595.55h0M496.86 586h0M497.55 583.16h0M493.31 580.32h0M496.72 592.89h0M489.48 584.52h0M503.6 594.27h0M496.31 590.5h0M487.27 592.56h0M496.2 580.89h0M492.64 591.58h0M492.5 589.61h0M491.19 589.03h0M490.16 588h0M492.81 583.27h0M496.86 584.72h0M487.96 591.5h0M493.99 573.8h0M494.39 588.57h0M499.8 595.03h0M498.54 582.94h0M492.28 578.69h0M500.25 592.35h0M490.45 590.98h0M500.08 584.97h0M502.29 590.99h0M500.39 583.99h0M489.69 587.95h0M495.85 574.22h0M495.76 581.34h0M495.78 595.06h0M490.6 582.8h0M497.51 592.89h0M495.22 589.16h0M490.69 582.67h0M494.02 594.59h0M490.5 594.14h0M488.36 590.13h0M493.02 579.12h0M491.04 586.61h0M490.56 585.72h0M487.93 594.11h0M492.22 581.17h0M501.69 591.52h0M501.03 586.24h0M494.16 575.26h0M492.27 587.2h0M488.61 587.82h0M493.48 577.56h0M499.01 582.7h0M498.11 583.56h0M497.19 595.98h0M493.05 578.78h0M489.87 587.06h0M496.98 594.43h0M498.09 577.93h0M492.84 590.46h0M493.78 576.38h0M492.24 594.96h0M498.94 586.11h0M491.6 580.45h0M488.97 586.39h0M491.07 583.79h0M495.69 590.22h0M499.56 594.91h0M490.33 591.76h0M498.03 586.34h0M494.58 587.82h0M489.22 590.77h0M489.23 589.6h0M493.49 581.46h0M488.93 589.43h0M489.12 592.81h0M498.12 588.84h0M489.29 591.27h0M489.93 592.88h0M493.3 578.94h0M502.26 589.27h0M492.02 590.69h0M493.33 585.12h0M488.31 594.53h0M489.23 592.8h0M492.38 581.07h0M496.12 591.22h0M499.23 593.33h0M491.94 580.82h0M494.71 595.22h0M489.31 585.63h0M495.64 582.24h0M488.84 595.49h0M492.32 576.86h0M495.72 573.63h0M499.8 585.17h0M499.72 590.23h0M491.42 585.93h0M498.98 591.88h0M495.98 594.96h0M498.78 583.69h0M492.57 579.34h0M490.65 582.03h0M493.26 575.31h0M487.93 591.15h0M494.52 583.97h0M491.21 595.19h0M499.67 593.06h0M488.83 593.59h0M489.31 589.06h0M489.01 586.02h0M492.44 581.07h0M491.56 580.06h0M497.11 586.6h0M491.79 589.87h0M493.3 587.04h0M495.16 594.57h0M487.9 591.23h0M497.85 582.59h0M490.56 595.81h0M489.09 585.17h0M492.73 588.72h0M491.76 585.78h0M487.89 591.2h0M501.73 588.1h0M498.72 591.27h0M489.21 588.23h0M493.13 584.66h0M489.43 594.6h0M497.97 592.49h0M491.5 591.47h0M494.02 583.11h0M501.1 595.23h0M499.84 584.27h0M500.36 593.79h0M499 590.23h0M496.57 578.13h0M497.49 590.82h0M500.07 582.8h0M491.61 593.49h0M499.92 590.58h0M494.37 581.56h0M491.24 595.4h0M497.52 587.89h0M497.28 589.45h0M492.51 595.4h0M493.15 582.2h0M487.97 592.64h0M489.78 587.77h0M497.61 582.03h0M499.06 581.62h0M488.23 593.34h0M492.51 592.41h0M491.99 588.65h0M494.37 580.52h0M489.22 591.22h0M500.89 593.29h0M500.2 592.66h0M497.53 579.12h0M494.93 589.88h0M498.51 593.34h0M493.16 569.46h0M492.32 562.08h0M492.59 574.59h0M491.26 562.21h0M489.92 574.3h0M495.6 568.16h0M488.82 563.02h0M496.35 562.84h0M492.06 567.32h0M494.46 562.94h0M492.14 573.21h0M491.38 572.1h0M492.54 564.44h0M494.53 565.27h0M493.07 565.64h0M496.48 566.12h0M492.09 549.51h0M499.94 554.41h0M495.04 558.34h0M510.49 559.07h0M515.89 561.53h0M515.4 565.21h0M511.47 569.62h0M501.17 571.34h0M502.4 577.47h0M508.53 575.02h0M505.58 587.28h0M509.75 589.73h0M512.94 589.24h0M515.4 593.9h0M541.64 591.45h0M490.13 563.98h0M493.81 566.43h0M495.77 570.11h0M489.4 568.88h0M492.58 561.53h0M497.49 565.21h0M504.85 579.92h0M507.3 583.6h0" stroke="#d87c82" stroke-width="2.6" stroke-linecap="round" fill="none"/>
<path d="M570.34 519.09h0M626.26 521.06h0M606.64 525.47h0M569.36 526.45h0M568.87 530.87h0M537.47 531.85h0M549 532.83h0M548.26 534.55h0M560.53 528.9h0M577.21 533.32h0M578.68 537h0M573.53 536.26h0M590.7 530.38h0M596.34 528.9h0M600.02 532.09h0M602.96 532.09h0M609.83 532.83h0M622.58 537h0M633.62 537.73h0M634.85 540.19h0M518.34 541.9h0M522.02 544.36h0M524.47 544.36h0M531.83 541.17h0M537.96 542.15h0M541.89 542.64h0M547.28 539.7h0M550.23 538.23h0M552.68 538.23h0M557.58 545.58h0M562.49 543.13h0M565.43 538.72h0M569.85 543.13h0M572.3 544.36h0M575.98 545.58h0M580.88 544.36h0M583.34 543.13h0M588.24 543.62h0M589.47 544.36h0M599.28 545.58h0M604.19 544.36h0M610.32 546.32h0M614 544.36h0M620.13 544.85h0M628.71 543.13h0M636.07 550h0M637.3 550.98h0M642.2 557.36h0M633.62 559.07h0M631.17 561.53h0M625.04 563.24h0M621.36 560.79h0M617.19 564.22h0M604.92 569.38h0M596.83 565.21h0M600.51 559.07h0M602.96 557.85h0M598.05 552.45h0M593.88 552.94h0M589.47 551.72h0M587.02 552.94h0M583.34 549.26h0M580.88 550.49h0M578.43 552.94h0M575.98 550.49h0M573.53 552.94h0M570.34 551.72h0M567.39 550.49h0M564.94 550h0M562.98 551.72h0M561.26 548.04h0M557.58 550h0M555.13 551.72h0M552.68 552.94h0M550.23 551.72h0M547.28 550.49h0M544.09 549.26h0M541.64 550h0M537.96 548.04h0M534.28 550.49h0M530.6 549.26h0M526.92 550.49h0M523.74 550h0M522.02 550.98h0M530.6 552.94h0M535.51 554.17h0M539.19 556.62h0M542.87 557.85h0M545.32 560.3h0M548.26 562.26h0M551.45 563.98h0M553.9 562.75h0M556.36 560.3h0M559.55 559.07h0M562 557.85h0M564.94 556.62h0M567.89 557.85h0M570.34 556.62h0M572.79 558.34h0M575.98 556.62h0M578.43 559.07h0M581.62 556.62h0M584.56 557.85h0M588.24 559.07h0M520.79 561.53h0M524.47 561.53h0M526.92 563.98h0M529.38 566.43h0M531.83 563.24h0M534.28 565.21h0M536.73 568.15h0M539.19 568.88h0M536.73 572.56h0M533.06 571.34h0M524.47 570.11h0M524.47 572.56h0M541.64 565.21h0M545.32 567.66h0M548.26 572.56h0M553.9 572.07h0M557.58 567.66h0M560.53 565.21h0M563.72 565.7h0M566.9 567.66h0M569.85 566.43h0M572.79 568.88h0M571.81 572.56h0M572.79 576.24h0M577.21 566.43h0M579.66 567.66h0M585.05 573.79h0M578.43 563.24h0M580.88 560.79h0M583.34 554.17h0M586.53 555.89h0M591.92 553.43h0M598.3 586.79h0M609.58 582.38h0M541.64 559.81h0M544.09 555.39h0M546.55 554.17h0M567.39 559.81h0M570.34 562.75h0M562.49 562.75h0M557.58 563.98h0M550.23 567.66h0M533.06 558.34h0M528.15 557.85h0M540.41 562.75h0M564.94 546.81h0M568.62 545.58h0M574.26 548.04h0M577.21 548.04h0M551.45 543.13h0M545.32 545.09h0M542.87 546.81h0M536 543.62h0" stroke="#137d92" stroke-width="2.6" stroke-linecap="round" fill="none"/>
<line x1="487.5" y1="450.9" x2="491" y2="450.9" stroke="#e8a9ad" stroke-width="0.9"/>
<line x1="494.9" y1="450.9" x2="499.3" y2="450.9" stroke="#e8a9ad" stroke-width="0.9"/>
<line x1="487.5" y1="448.7" x2="487.5" y2="453.1" stroke="#e8a9ad" stroke-width="0.9"/>
<line x1="499.3" y1="448.7" x2="499.3" y2="453.1" stroke="#e8a9ad" stroke-width="0.9"/>
<line x1="499.6" y1="450.9" x2="515.2" y2="450.9" stroke="#d87c82" stroke-width="1.7" stroke-dasharray="3 1.3"/>
<rect x="491" y="446.3" width="3.9" height="9.2" fill="#f5c9cb" stroke="#e2959a" stroke-width="0.9" rx="0.6"/>
<line x1="492.9" y1="446.3" x2="492.9" y2="455.5" stroke="#e2959a" stroke-width="0.9"/>
<line x1="518.6" y1="450.9" x2="547.4" y2="450.9" stroke="#62b3c3" stroke-width="0.9"/>
<line x1="584.1" y1="450.9" x2="636.3" y2="450.9" stroke="#62b3c3" stroke-width="0.9"/>
<line x1="518.6" y1="448.7" x2="518.6" y2="453.1" stroke="#62b3c3" stroke-width="0.9"/>
<line x1="636.3" y1="448.7" x2="636.3" y2="453.1" stroke="#62b3c3" stroke-width="0.9"/>
<rect x="547.4" y="446.3" width="36.7" height="9.2" fill="#a8d4dc" stroke="#3e9db0" stroke-width="0.9" rx="0.6"/>
<line x1="569.4" y1="446.3" x2="569.4" y2="455.5" stroke="#3e9db0" stroke-width="0.9"/>
<circle cx="642.1" cy="450.9" r="1.1" fill="#137d92"/>
<line x1="678.9" y1="545.2" x2="678.9" y2="519.4" stroke="#62b3c3" stroke-width="1"/>
<line x1="676.3" y1="519.4" x2="681.5" y2="519.4" stroke="#62b3c3" stroke-width="1"/>
<line x1="678.9" y1="563.6" x2="678.9" y2="587.5" stroke="#7d6f86" stroke-width="1.2"/>
<line x1="676.3" y1="587.5" x2="681.5" y2="587.5" stroke="#3e9db0" stroke-width="1"/>
<rect x="673.1" y="545.2" width="11.6" height="18.4" fill="#a8d4dc" stroke="#3e9db0" stroke-width="0.9" rx="0.6"/>
<line x1="673.1" y1="555.8" x2="684.7" y2="555.8" stroke="#3e9db0" stroke-width="0.9"/>
<line x1="678.9" y1="591" x2="678.9" y2="595.4" stroke="#e39aa0" stroke-width="0.9"/>
<line x1="676.3" y1="595.4" x2="681.5" y2="595.4" stroke="#e39aa0" stroke-width="0.9"/>
<line x1="676.3" y1="585.5" x2="681.5" y2="585.5" stroke="#e39aa0" stroke-width="0.9"/>
<rect x="673.1" y="588.4" width="11.6" height="2.6" fill="#f5c9cb" stroke="#e2959a" stroke-width="0.8" rx="0.5"/>
<line x1="673.1" y1="589.7" x2="684.7" y2="589.7" stroke="#e2959a" stroke-width="0.7"/>
<text x="9.8" y="649.2" font-size="26" text-anchor="start" fill="#231815" font-weight="bold">j</text>
<rect x="39.8" y="666.3" width="166.8" height="127.1" fill="none" stroke="#3c3c3c" stroke-width="1"/>
<line x1="37.3" y1="793.4" x2="39.8" y2="793.4" stroke="#3c3c3c" stroke-width="0.8"/>
<text x="35.8" y="796.3" font-size="8.6" text-anchor="end" fill="#231815" font-weight="normal" letter-spacing="-0.3">0</text>
<line x1="37.3" y1="729.85" x2="39.8" y2="729.85" stroke="#3c3c3c" stroke-width="0.8"/>
<text x="35.8" y="732.75" font-size="8.6" text-anchor="end" fill="#231815" font-weight="normal" letter-spacing="-0.3">500</text>
<line x1="37.3" y1="666.3" x2="39.8" y2="666.3" stroke="#3c3c3c" stroke-width="0.8"/>
<text x="35.8" y="669.2" font-size="8.6" text-anchor="end" fill="#231815" font-weight="normal" letter-spacing="-0.3">1000</text>
<line x1="39.8" y1="793.4" x2="39.8" y2="795.9" stroke="#3c3c3c" stroke-width="0.8"/>
<text x="39.65" y="804" font-size="8.6" text-anchor="middle" fill="#231815" font-weight="normal" letter-spacing="-0.3">0</text>
<line x1="123.2" y1="793.4" x2="123.2" y2="795.9" stroke="#3c3c3c" stroke-width="0.8"/>
<text x="123.05" y="804" font-size="8.6" text-anchor="middle" fill="#231815" font-weight="normal" letter-spacing="-0.3">15</text>
<line x1="206.6" y1="793.4" x2="206.6" y2="795.9" stroke="#3c3c3c" stroke-width="0.8"/>
<text x="206.45" y="804" font-size="8.6" text-anchor="middle" fill="#231815" font-weight="normal" letter-spacing="-0.3">30</text>
<text x="123.2" y="818" font-size="10.3" text-anchor="middle" fill="#231815" font-weight="normal">DiO (arbitrary unit)</text>
<text x="16.5" y="729.85" font-size="10.3" text-anchor="middle" fill="#231815" font-weight="normal" transform="rotate(-90 16.5 729.85)">Cell area (arbitrary unit)</text>
<path d="M48.09 785.33h0M54.5 783.96h0M49.37 790.24h0M44.15 783.44h0M54.43 781.68h0M52.38 782.79h0M45.16 778.64h0M41.68 786.79h0M60.23 789.65h0M58.55 783.55h0M43.4 788.28h0M50.9 783.77h0M55.01 789.18h0M45.9 780.81h0M51.5 782.15h0M50.97 788.03h0M45.69 778.93h0M53.65 786.87h0M56.55 782.61h0M42.41 786.24h0M42.8 781.77h0M47.92 787.92h0M60.03 788.46h0M44.95 778.77h0M57.1 789.55h0M46.19 789.77h0M55.45 776.82h0M48.86 785.55h0M58.34 784.67h0M41.75 784.03h0M56.68 781.34h0M45.96 788.9h0M46.98 774.52h0M48.49 784.23h0M60.25 783.82h0M41.58 784.81h0M56.24 779.77h0M60.57 786.42h0M60.56 786h0M43.43 779.1h0M53.11 784.7h0M49.97 782.28h0M47.21 772.15h0M54.19 789.77h0M47.89 775.79h0M51.4 775.55h0M48.3 773.95h0M50.34 781.09h0M50.95 771.86h0M49.01 771h0M59.38 790.25h0M59.52 784.81h0M51.13 783.84h0M47 774.92h0M60.11 782.58h0M58.66 788.55h0M42.63 784.53h0M43.85 782.14h0M52.43 772.09h0M49.83 775.18h0M48.21 770.86h0M49.58 789.26h0M58.16 785.58h0M58.9 781.79h0M45.19 788.03h0M57.61 777.34h0M60.41 785.4h0M46.26 772.32h0M43.34 781.72h0M52.27 781.58h0M46.05 780.79h0M56.63 783.58h0M57.61 787.46h0M49.6 773.85h0M51.63 773.01h0M55.71 788.57h0M47.17 790h0M51.3 781.91h0M50.45 772.59h0M57.6 780.41h0M45.46 780.6h0M46.29 778.54h0M54.53 773.98h0M48.83 790.23h0M56.92 779.47h0M54.25 780.9h0M50.22 773.3h0M46.81 784.22h0M45.85 779.96h0M48.97 787.43h0M47.25 782.3h0M56.59 778.02h0M51.84 779.73h0M60.22 786.37h0M49.94 770.29h0M49.88 783.4h0M50.6 774.02h0M59.41 789.58h0M57.72 788.69h0M51.64 790.18h0M58.83 786.78h0M49.74 775.85h0M50.06 786.45h0M56.15 774.7h0M47.43 776.19h0M47.92 776.38h0M58.77 787.77h0M53.79 777.6h0M43.1 778.64h0M57.55 779.47h0M49.59 778.13h0M52.72 771.42h0M43.22 779.83h0M51.28 778.87h0M55.65 781.21h0M58.93 784.73h0M55.05 787.85h0M52.7 777.23h0M57.62 783.51h0M40.9 784.74h0M45.03 784.82h0M54.68 790.08h0M49.03 783.53h0M47.87 774.66h0M53.65 785.02h0M44.27 781.52h0M57.92 777.8h0M42.6 785.1h0M51.34 772.13h0M56.38 780.99h0M48.58 788.13h0M48.95 773.52h0M53.84 773.72h0M42.71 782.66h0M54.55 780.45h0M58.97 789.63h0M50.84 768.82h0M51.84 774.43h0M49.19 784.69h0M53.31 772.13h0M47.6 783.5h0M55.08 786.25h0M46.71 781.89h0M57.97 783.9h0M54.85 785.08h0M59.49 781.58h0M44.04 787.81h0M45.75 786.03h0M55.59 779.14h0M53.42 786.54h0M57.81 790.1h0M48.96 786.57h0M47.84 789.16h0M47.35 781.96h0M54.99 778.9h0M47.5 775.62h0M48.26 781.76h0M49.46 779.38h0M48.9 771.91h0M53.21 776.71h0M49.71 781.42h0M50.47 781.37h0M46.84 785.56h0M52.38 769.88h0M54.39 776.44h0M43.38 777.1h0M56.82 787.07h0M51.5 783.24h0M51.63 774.55h0M53.89 782.74h0M49.54 778.5h0M48.53 783.31h0M50.37 788.4h0M44.54 784.17h0M55.38 773.49h0M50.26 788.33h0M41.88 786.56h0M53.82 783.19h0M57.99 778.44h0M45.47 788.5h0M51.21 787.52h0M49.52 775.09h0M46.46 788.15h0M47.89 779.91h0M60.09 789.5h0M43.67 783.55h0M59.21 780.04h0M48.17 778.9h0M53.49 781.34h0M46.44 779.66h0M58.56 781.4h0M51.19 782h0M54.85 787.35h0M57.04 775.67h0M50.83 786.39h0M54.72 774.46h0M56.92 784.93h0M49.31 778.47h0M54.81 776.7h0M45.76 775.71h0M47.41 785.45h0M52.71 785.89h0M43.39 787.09h0M47.77 771.02h0M51.05 771.61h0M50.26 785.58h0M49.22 771.84h0M44.8 790.15h0M42.78 784.57h0M53.51 782.42h0M49.32 770.8h0M57.71 781.85h0M43.27 787.19h0M59.32 782.14h0M50.05 772.86h0M44.59 787.07h0M46.44 773.02h0M55.29 774.91h0M50.95 771.55h0M45.98 781.29h0M58.22 787.59h0M47.6 775.49h0M48.51 776.3h0M48.58 778.08h0M56.3 788.6h0M56.14 777.64h0M51.46 786.91h0M60.62 788.1h0M60.41 788.64h0M43.59 785.88h0M60.21 785.67h0M54.39 778.83h0M55.3 773.55h0M41.62 786.36h0M43.17 788.52h0M53.07 776.46h0M48.74 771.08h0M47.16 786.34h0M48.37 782.47h0M59.49 788.41h0M50.42 771.92h0M46.47 775.64h0M56.44 781.41h0M54.43 774.44h0M48.54 770.39h0M46.78 776.84h0M44.04 785.55h0M56.74 775.8h0M51.17 783.27h0M49.41 787.45h0M54.32 789.11h0M58.27 782.56h0M46.68 776.05h0M59.23 780.78h0M49.2 773.19h0M53.58 787.48h0M46.8 782.27h0M51.91 776.4h0M43.73 786.64h0M60.6 789.89h0M56.08 790.25h0M52.28 774.45h0M56.45 784.24h0M51.24 772.66h0M59.83 784.78h0M51.36 785.64h0M47.68 777.07h0M55.8 774.91h0M59.73 787.39h0M57.37 778.39h0M44.79 782.73h0M49.83 775.93h0M50.8 784h0M45.85 774.35h0M60.89 786h0M49.17 781.4h0M53.5 787.15h0M59.2 787.85h0M50.22 781.98h0M50.28 776.48h0M55.01 782.44h0M41.91 782.67h0M41.86 782.34h0M50.23 775.25h0M47.33 771.3h0M54.29 777.01h0M56.28 773.73h0M42.31 781.43h0M56.54 786.36h0M43.42 779.37h0M50.3 784.44h0M52.94 781.77h0M42.39 790.12h0M54.2 789.58h0M54.12 783.47h0M43.27 782.35h0M46.92 781.02h0M59.03 780.85h0M57.73 785.96h0M47.09 788.04h0M49.48 773.57h0M44 782.73h0M44.86 775.5h0M50.53 788.56h0M49.99 780.13h0M51.55 779.78h0M58.38 780.77h0M51.15 771.94h0M48.36 781.96h0M53.08 779.17h0M51.27 781.14h0M58.05 777.44h0M48.63 778.43h0M43.49 787.83h0M56.02 774.97h0M55.44 787.55h0M42.08 782.59h0M59.93 787.77h0M56.55 774.94h0M55.17 773.13h0M49.38 782.19h0M53.56 779.13h0M56.72 785.81h0M43.41 780.6h0M46.81 773.8h0M50.06 779.9h0M50.71 776.6h0M54.37 778.42h0M49.34 772.46h0M42.23 782.21h0M50.81 789.16h0M54.06 788.54h0M51.88 787.55h0M48.05 783.81h0M52.12 789.69h0M50.49 772.73h0M53.21 772.71h0M46.07 783h0M53.35 781.45h0M57.94 777.5h0M49.31 788.96h0M43.04 783.62h0M56.8 777.3h0M51.66 782.59h0M46.54 781.67h0M50.29 781.26h0M48.28 788.36h0M49.91 783.94h0M53.9 776.74h0M55.46 775.53h0M45.4 789.19h0M41.93 784.75h0M50.62 769.48h0M47.34 785.95h0M49.27 779.74h0M44.92 778.42h0M54.93 774.09h0M52.97 789.01h0M46.08 782.85h0M44.6 777.64h0M56.99 779.03h0M57.18 781.06h0M43.15 787.29h0M48.12 781.08h0M45.72 790.24h0M58.41 785.96h0M52.92 779.42h0M48.76 783.21h0M44.88 780.2h0M50.18 789.35h0M49.52 770.77h0M48.23 770.62h0M59.02 786.98h0M55.25 772.1h0M52.5 779.22h0M56.75 776.52h0M49.57 774.63h0M52.5 769.76h0M46.39 787.44h0M57.72 778.02h0M52.09 768.49h0M53.81 765.73h0M52.93 769.56h0M51.14 769.24h0M54.27 765.41h0M54.27 764.13h0M43.91 757.98h0M47.58 744h0M57.4 749.39h0M102.28 782.51h0M67.21 784.96h0M46.36 767.79h0M49.3 762.15h0M52.49 759.21h0M61.08 781.28h0M62.3 784.96h0M42.68 769.02h0M43.91 773.92h0" stroke="#d87c82" stroke-width="2.6" stroke-linecap="round" fill="none"/>
<path d="M53.72 713.09h0M61.81 715.06h0M57.4 719.47h0M59.85 721.19h0M62.3 722.9h0M77.02 720.45h0M72.85 726.09h0M82.66 726.09h0M94.19 724.87h0M102.28 724.38h0M109.39 728.06h0M112.09 727.32h0M124.36 726.09h0M127.3 731h0M141.28 732.23h0M170.71 732.23h0M78.74 730.26h0M86.83 732.72h0M99.09 729.28h0M54.94 726.83h0M58.62 730.26h0M61.08 732.23h0M63.53 733.45h0M53.72 734.19h0M56.17 735.9h0M58.62 737.13h0M62.3 737.62h0M64.75 735.17h0M52.49 739.58h0M45.87 738.6h0M48.81 740.81h0M51.26 743.26h0M53.72 744.98h0M56.17 744.49h0M58.62 746.94h0M61.08 745.72h0M63.53 744.49h0M65.98 743.26h0M70.89 738.36h0M74.57 737.13h0M78.24 735.9h0M80.7 738.36h0M83.64 739.58h0M73.34 740.81h0M75.79 743.26h0M79.47 745.72h0M81.92 746.94h0M87.57 744h0M96.15 738.36h0M97.38 743.26h0M99.58 746.45h0M103.26 737.87h0M109.15 739.09h0M114.55 744.98h0M118.72 746.45h0M135.88 746.45h0M144.47 745.22h0M141.53 751.85h0M118.72 753.07h0M123.62 755.53h0M141.53 761.66h0M126.81 761.66h0M123.13 764.11h0M126.07 763.62h0M105.23 762.39h0M101.06 760.43h0M97.38 759.94h0M185.19 766.07h0M176.36 755.53h0M45.13 744.98h0M47.58 749.39h0M50.04 751.85h0M52.49 750.62h0M54.94 749.39h0M57.4 751.85h0M59.85 753.07h0M62.3 754.3h0M65.49 752.34h0M68.43 750.62h0M70.89 749.39h0M73.34 746.94h0M75.79 749.39h0M78.24 751.85h0M80.7 754.3h0M84.38 752.34h0M86.83 750.62h0M90.51 750.62h0M92.96 751.36h0M95.41 751.85h0M89.28 756.75h0M86.83 758.72h0M83.64 758.72h0M80.7 757.24h0M78.24 759.21h0M75.79 760.43h0M73.34 758.72h0M70.89 757.24h0M68.43 756.75h0M65.98 758.72h0M63.53 759.7h0M61.08 761.17h0M58.62 758.72h0M56.17 757.24h0M53.72 756.26h0M51.26 755.53h0M48.81 757.24h0M50.04 760.43h0M52.49 762.88h0M54.94 761.66h0M57.4 764.11h0M59.85 766.56h0M62.3 765.34h0M64.75 767.79h0M65.49 770.24h0M73.34 767.79h0M74.57 766.07h0M81.92 759.21h0M84.38 757.98h0M88.06 757.24h0M47.58 776.38h0M47.58 780.79h0M50.77 744.49h0M54.94 746.94h0M56.66 740.81h0M60.58 741.55h0M63.53 749.39h0M67.21 748.17h0M69.66 745.72h0M72.11 753.07h0M75.3 754.3h0M78.24 754.3h0M68.43 762.88h0M61.08 762.88h0M91.73 753.07h0M94.19 755.53h0M60.1 763.88h0M51.18 749.55h0M51.27 739.75h0M55.38 743.15h0M56.51 763.8h0M58.49 749.04h0M50.81 745.71h0M54.58 744.16h0M58.78 736.97h0M65.49 745.94h0M55.72 760.34h0M49.85 749.88h0M53.02 735.42h0M70.46 747.03h0M58.29 758.1h0M67.15 748.92h0M61.8 751.75h0M62.62 747.78h0M51.16 761.9h0M59.29 756.27h0M58.01 746.61h0M55.84 763.67h0M69.44 736.2h0M48.37 747.14h0M54.47 736.64h0M48.65 754.6h0M65.41 735.73h0M55.06 739.5h0M65.66 736.83h0M63.15 738.27h0M60.36 735.13h0M59.65 763.26h0M56.86 750.28h0M53.53 751.11h0M64.72 739.93h0M69.76 742.27h0M66.67 737.01h0M64.96 748.01h0M60.06 756.63h0M60.68 750.15h0" stroke="#137d92" stroke-width="2.6" stroke-linecap="round" fill="none"/>
<line x1="40.5" y1="645.1" x2="48.2" y2="645.1" stroke="#e8a9ad" stroke-width="0.9"/>
<line x1="53.6" y1="645.1" x2="55.5" y2="645.1" stroke="#e8a9ad" stroke-width="0.9"/>
<line x1="40.5" y1="642.9" x2="40.5" y2="647.3" stroke="#e8a9ad" stroke-width="0.9"/>
<line x1="55.5" y1="642.9" x2="55.5" y2="647.3" stroke="#e8a9ad" stroke-width="0.9"/>
<rect x="48.2" y="640.5" width="5.4" height="9.2" fill="#f5c9cb" stroke="#e2959a" stroke-width="0.9" rx="0.6"/>
<line x1="50.9" y1="640.5" x2="50.9" y2="649.7" stroke="#e2959a" stroke-width="0.9"/>
<line x1="45.4" y1="645.1" x2="57.4" y2="645.1" stroke="#62b3c3" stroke-width="0.9"/>
<line x1="83.4" y1="645.1" x2="122.6" y2="645.1" stroke="#62b3c3" stroke-width="0.9"/>
<line x1="45.4" y1="642.9" x2="45.4" y2="647.3" stroke="#62b3c3" stroke-width="0.9"/>
<line x1="122.6" y1="642.9" x2="122.6" y2="647.3" stroke="#62b3c3" stroke-width="0.9"/>
<rect x="57.4" y="640.5" width="26" height="9.2" fill="#a8d4dc" stroke="#3e9db0" stroke-width="0.9" rx="0.6"/>
<line x1="64.8" y1="640.5" x2="64.8" y2="649.7" stroke="#3e9db0" stroke-width="0.9"/>
<circle cx="126.1" cy="645.1" r="1.1" fill="#137d92"/>
<circle cx="136" cy="645.1" r="1.1" fill="#137d92"/>
<circle cx="141.2" cy="645.1" r="1.1" fill="#137d92"/>
<circle cx="144.7" cy="645.1" r="1.1" fill="#137d92"/>
<circle cx="170.6" cy="645.1" r="1.1" fill="#137d92"/>
<circle cx="176.2" cy="645.1" r="1.1" fill="#137d92"/>
<circle cx="185" cy="645.1" r="1.1" fill="#137d92"/>
<line x1="234" y1="739.1" x2="234" y2="713.3" stroke="#62b3c3" stroke-width="1"/>
<line x1="231.4" y1="713.3" x2="236.6" y2="713.3" stroke="#62b3c3" stroke-width="1"/>
<line x1="234" y1="757.7" x2="234" y2="781.3" stroke="#7d6f86" stroke-width="1.2"/>
<line x1="231.4" y1="781.3" x2="236.6" y2="781.3" stroke="#3e9db0" stroke-width="1"/>
<rect x="228.3" y="739.1" width="11.4" height="18.6" fill="#a8d4dc" stroke="#3e9db0" stroke-width="0.9" rx="0.6"/>
<line x1="228.3" y1="749.4" x2="239.7" y2="749.4" stroke="#3e9db0" stroke-width="0.9"/>
<line x1="234" y1="784.7" x2="234" y2="789.5" stroke="#e39aa0" stroke-width="0.9"/>
<line x1="231.4" y1="789.5" x2="236.6" y2="789.5" stroke="#e39aa0" stroke-width="0.9"/>
<line x1="231.4" y1="779.5" x2="236.6" y2="779.5" stroke="#e39aa0" stroke-width="0.9"/>
<rect x="228.3" y="782.5" width="11.4" height="2.2" fill="#f5c9cb" stroke="#e2959a" stroke-width="0.8" rx="0.5"/>
<line x1="228.3" y1="783.6" x2="239.7" y2="783.6" stroke="#e2959a" stroke-width="0.7"/>
<text x="491.3" y="249.5" font-size="26" text-anchor="start" fill="#231815" font-weight="bold">f</text>
<rect x="515.5" y="275" width="165.8" height="133.2" fill="none" stroke="#8c8c8c" stroke-width="1.3"/>
<g stroke="#2a2a2a" stroke-width="1" stroke-dasharray="1.4 1.6" fill="none"><line x1="528.7" y1="276" x2="528.7" y2="407.2"/><line x1="516.5" y1="397.1" x2="680.3" y2="397.1"/></g>
<line x1="516.2" y1="407.5" x2="680.6" y2="275.7" stroke="#2e2e2e" stroke-width="1" stroke-dasharray="1.6 1.5"/>
<line x1="512.9" y1="397.1" x2="515.5" y2="397.1" stroke="#777" stroke-width="0.9"/>
<text x="511" y="400.4" font-size="9.5" text-anchor="end" fill="#2b2323" font-weight="normal">0.0</text>
<line x1="528.7" y1="408.2" x2="528.7" y2="410.8" stroke="#777" stroke-width="0.9"/>
<text x="528.7" y="419.5" font-size="9.5" text-anchor="middle" fill="#2b2323" font-weight="normal">0.0</text>
<line x1="512.9" y1="341.55" x2="515.5" y2="341.55" stroke="#777" stroke-width="0.9"/>
<text x="511" y="344.85" font-size="9.5" text-anchor="end" fill="#2b2323" font-weight="normal">0.5</text>
<line x1="598.3" y1="408.2" x2="598.3" y2="410.8" stroke="#777" stroke-width="0.9"/>
<text x="598.3" y="419.5" font-size="9.5" text-anchor="middle" fill="#2b2323" font-weight="normal">0.5</text>
<line x1="512.9" y1="286" x2="515.5" y2="286" stroke="#777" stroke-width="0.9"/>
<text x="511" y="289.3" font-size="9.5" text-anchor="end" fill="#2b2323" font-weight="normal">1.0</text>
<line x1="667.9" y1="408.2" x2="667.9" y2="410.8" stroke="#777" stroke-width="0.9"/>
<text x="667.9" y="419.5" font-size="9.5" text-anchor="middle" fill="#2b2323" font-weight="normal">1.0</text>
<text x="598.4" y="435.4" font-size="11.2" text-anchor="middle" fill="#231815" font-weight="normal">1 - Specificity</text>
<text x="494.7" y="341.6" font-size="11.3" text-anchor="middle" fill="#231815" font-weight="normal" transform="rotate(-90 494.7 341.6)">Sensitivity</text>
<path d="M528.35 396.72 L530.71 345.68 L533.06 309.55 L533.06 296.99 L533.53 296.99 L533.53 285.99 L534.16 285.99 L667.9 286" fill="none" stroke="#44a2ba" stroke-width="1.05" stroke-linejoin="round"/>
<path d="M528.35 396.72 L529.92 337.82 L530.71 309.55 L530.71 289.92 L531.18 289.92 L531.18 285.99 L531.96 285.99 L667.9 286" fill="none" stroke="#35a47a" stroke-width="1.05" stroke-linejoin="round"/>
<path d="M528.35 396.72 L531.49 333.11 L532.59 306.41 L532.59 289.14 L533.53 289.14 L533.53 285.99 L534.16 285.99 L667.9 286" fill="none" stroke="#f6b57e" stroke-width="1.05" stroke-linejoin="round"/>
<path d="M528.35 396.72 L530.71 337.82 L532.28 306.41 L532.28 285.99 L533.85 285.99 L667.9 286" fill="none" stroke="#f4b9d0" stroke-width="1.05" stroke-linejoin="round"/>
<path d="M528.35 396.72 L530.23 353.53 L531.49 333.11 L531.49 322.12 L531.96 322.12 L531.96 298.56 L532.59 298.56 L532.59 285.99 L534.48 285.99 L667.9 286" fill="none" stroke="#c7c2dd" stroke-width="1.05" stroke-linejoin="round"/>
<text x="678" y="336.5" font-size="11.5" text-anchor="end" fill="#3a3030" font-weight="normal">Cell area</text>
<text x="671.7" y="349.6" font-size="8.9" text-anchor="end" fill="#2b2323" font-weight="normal">AUC</text>
<line x1="598" y1="357.4" x2="618.1" y2="357.4" stroke="#44a2ba" stroke-width="1.1"/>
<text x="621.2" y="360.6" font-size="8.9" text-anchor="start" fill="#2b2323" font-weight="normal">Test #1 0.984</text>
<line x1="598" y1="368.3" x2="618.1" y2="368.3" stroke="#35a47a" stroke-width="1.1"/>
<text x="621.2" y="371.5" font-size="8.9" text-anchor="start" fill="#2b2323" font-weight="normal">Test #2 0.994</text>
<line x1="598" y1="379.2" x2="618.1" y2="379.2" stroke="#f6b57e" stroke-width="1.1"/>
<text x="621.2" y="382.4" font-size="8.9" text-anchor="start" fill="#2b2323" font-weight="normal">Test #3 0.983</text>
<line x1="598" y1="390.1" x2="618.1" y2="390.1" stroke="#f4b9d0" stroke-width="1.1"/>
<text x="621.2" y="393.3" font-size="8.9" text-anchor="start" fill="#2b2323" font-weight="normal">Test #4 0.991</text>
<line x1="598" y1="401" x2="618.1" y2="401" stroke="#c7c2dd" stroke-width="1.1"/>
<text x="621.2" y="404.2" font-size="8.9" text-anchor="start" fill="#2b2323" font-weight="normal">Test #5 0.989</text>
<text x="5.9" y="460.3" font-size="26" text-anchor="start" fill="#231815" font-weight="bold">g</text>
<rect x="36.7" y="468.8" width="165.8" height="133.2" fill="none" stroke="#8c8c8c" stroke-width="1.3"/>
<g stroke="#2a2a2a" stroke-width="1" stroke-dasharray="1.4 1.6" fill="none"><line x1="49.9" y1="469.8" x2="49.9" y2="601"/><line x1="37.7" y1="590.9" x2="201.5" y2="590.9"/></g>
<line x1="37.4" y1="601.3" x2="201.8" y2="469.5" stroke="#2e2e2e" stroke-width="1" stroke-dasharray="1.6 1.5"/>
<line x1="34.1" y1="590.9" x2="36.7" y2="590.9" stroke="#777" stroke-width="0.9"/>
<text x="32.2" y="594.2" font-size="9.5" text-anchor="end" fill="#2b2323" font-weight="normal">0.0</text>
<line x1="49.9" y1="602" x2="49.9" y2="604.6" stroke="#777" stroke-width="0.9"/>
<text x="49.9" y="613.3" font-size="9.5" text-anchor="middle" fill="#2b2323" font-weight="normal">0.0</text>
<line x1="34.1" y1="535.35" x2="36.7" y2="535.35" stroke="#777" stroke-width="0.9"/>
<text x="32.2" y="538.65" font-size="9.5" text-anchor="end" fill="#2b2323" font-weight="normal">0.5</text>
<line x1="119.5" y1="602" x2="119.5" y2="604.6" stroke="#777" stroke-width="0.9"/>
<text x="119.5" y="613.3" font-size="9.5" text-anchor="middle" fill="#2b2323" font-weight="normal">0.5</text>
<line x1="34.1" y1="479.8" x2="36.7" y2="479.8" stroke="#777" stroke-width="0.9"/>
<text x="32.2" y="483.1" font-size="9.5" text-anchor="end" fill="#2b2323" font-weight="normal">1.0</text>
<line x1="189.1" y1="602" x2="189.1" y2="604.6" stroke="#777" stroke-width="0.9"/>
<text x="189.1" y="613.3" font-size="9.5" text-anchor="middle" fill="#2b2323" font-weight="normal">1.0</text>
<text x="119.6" y="629.2" font-size="11.2" text-anchor="middle" fill="#231815" font-weight="normal">1 - Specificity</text>
<text x="15.9" y="535.4" font-size="11.3" text-anchor="middle" fill="#231815" font-weight="normal" transform="rotate(-90 15.9 535.4)">Sensitivity</text>
<path d="M50.47 591.33 L51.25 547.62 L52.35 516.17 L52.35 502.81 L53.61 502.81 L53.61 500.45 L55.65 500.45 L59.58 500.45 L59.58 495.73 L60.84 495.73 L63.52 495.73 L63.52 492.58 L63.52 491.01 L65.87 491.01 L65.87 490.23 L69.02 490.23 L69.02 486.3 L73.74 486.3 L73.74 483.47 L74.52 483.47 L83.17 483.47 L83.17 482.84 L84.74 482.84 L107.54 482.84 L107.54 480.32 L189.1 479.8" fill="none" stroke="#44a2ba" stroke-width="1.05" stroke-linejoin="round"/>
<path d="M50.47 591.33 L51.09 547.62 L52.19 516.17 L52.19 500.45 L53.3 500.45 L53.3 494.94 L56.44 494.94 L56.44 492.58 L58.01 492.58 L58.01 489.44 L61.16 489.44 L61.16 487.87 L65.87 487.87 L65.87 486.3 L67.45 486.3 L67.45 484.72 L69.02 484.72 L69.33 483.15 L69.33 480.32 L69.81 480.32 L189.1 479.8" fill="none" stroke="#35a47a" stroke-width="1.05" stroke-linejoin="round"/>
<path d="M50.47 591.33 L51.41 547.62 L52.67 516.17 L52.67 498.87 L54.08 498.87 L54.08 497.3 L56.44 497.3 L56.44 494.16 L59.58 494.16 L59.58 492.58 L64.3 492.58 L64.3 491.01 L69.02 491.01 L69.02 489.44 L73.74 489.44 L73.74 486.3 L83.17 486.3 L83.17 483.94 L87.89 483.94 L87.89 483.15 L103.61 483.15 L103.61 480.32 L104.4 480.32 L189.1 479.8" fill="none" stroke="#f6b57e" stroke-width="1.05" stroke-linejoin="round"/>
<path d="M50.47 591.33 L51.72 547.62 L53.3 516.17 L53.3 500.45 L54.87 500.45 L54.87 498.09 L58.01 498.09 L58.01 498.87 L61.94 498.87 L61.94 497.3 L65.09 497.3 L65.09 492.58 L65.87 492.58 L69.02 492.58 L69.02 480.32 L69.81 480.32 L189.1 479.8" fill="none" stroke="#f4b9d0" stroke-width="1.05" stroke-linejoin="round"/>
<path d="M50.47 591.33 L50.94 547.62 L51.72 508.31 L51.72 497.3 L52.51 497.3 L52.51 493.37 L55.65 493.37 L55.65 491.01 L58.01 491.01 L58.01 488.65 L61.94 488.65 L61.94 487.87 L67.45 487.87 L67.45 488.65 L81.6 488.65 L81.6 484.72 L87.89 484.72 L87.89 483.15 L95.75 483.15 L95.75 480.32 L189.1 479.8" fill="none" stroke="#c7c2dd" stroke-width="1.05" stroke-linejoin="round"/>
<text x="199.2" y="530.3" font-size="11.5" text-anchor="end" fill="#3a3030" font-weight="normal">DiO/bac</text>
<text x="192.9" y="543.4" font-size="8.9" text-anchor="end" fill="#2b2323" font-weight="normal">AUC</text>
<line x1="119.2" y1="551.2" x2="139.3" y2="551.2" stroke="#44a2ba" stroke-width="1.1"/>
<text x="142.4" y="554.4" font-size="8.9" text-anchor="start" fill="#2b2323" font-weight="normal">Test #1 0.964</text>
<line x1="119.2" y1="562.1" x2="139.3" y2="562.1" stroke="#35a47a" stroke-width="1.1"/>
<text x="142.4" y="565.3" font-size="8.9" text-anchor="start" fill="#2b2323" font-weight="normal">Test #2 0.978</text>
<line x1="119.2" y1="573" x2="139.3" y2="573" stroke="#f6b57e" stroke-width="1.1"/>
<text x="142.4" y="576.2" font-size="8.9" text-anchor="start" fill="#2b2323" font-weight="normal">Test #3 0.961</text>
<line x1="119.2" y1="583.9" x2="139.3" y2="583.9" stroke="#f4b9d0" stroke-width="1.1"/>
<text x="142.4" y="587.1" font-size="8.9" text-anchor="start" fill="#2b2323" font-weight="normal">Test #4 0.968</text>
<line x1="119.2" y1="594.8" x2="139.3" y2="594.8" stroke="#c7c2dd" stroke-width="1.1"/>
<text x="142.4" y="598" font-size="8.9" text-anchor="start" fill="#2b2323" font-weight="normal">Test #5 0.971</text>
<text x="253.9" y="649.1" font-size="26" text-anchor="start" fill="#231815" font-weight="bold">k</text>
<rect x="280.9" y="663.3" width="165.8" height="133.2" fill="none" stroke="#8c8c8c" stroke-width="1.3"/>
<g stroke="#2a2a2a" stroke-width="1" stroke-dasharray="1.4 1.6" fill="none"><line x1="294.1" y1="664.3" x2="294.1" y2="795.5"/><line x1="281.9" y1="785.4" x2="445.7" y2="785.4"/></g>
<line x1="281.6" y1="795.8" x2="446" y2="664" stroke="#2e2e2e" stroke-width="1" stroke-dasharray="1.6 1.5"/>
<line x1="278.3" y1="785.4" x2="280.9" y2="785.4" stroke="#777" stroke-width="0.9"/>
<text x="276.4" y="788.7" font-size="9.5" text-anchor="end" fill="#2b2323" font-weight="normal">0.0</text>
<line x1="294.1" y1="796.5" x2="294.1" y2="799.1" stroke="#777" stroke-width="0.9"/>
<text x="294.1" y="807.8" font-size="9.5" text-anchor="middle" fill="#2b2323" font-weight="normal">0.0</text>
<line x1="278.3" y1="729.85" x2="280.9" y2="729.85" stroke="#777" stroke-width="0.9"/>
<text x="276.4" y="733.15" font-size="9.5" text-anchor="end" fill="#2b2323" font-weight="normal">0.5</text>
<line x1="363.7" y1="796.5" x2="363.7" y2="799.1" stroke="#777" stroke-width="0.9"/>
<text x="363.7" y="807.8" font-size="9.5" text-anchor="middle" fill="#2b2323" font-weight="normal">0.5</text>
<line x1="278.3" y1="674.3" x2="280.9" y2="674.3" stroke="#777" stroke-width="0.9"/>
<text x="276.4" y="677.6" font-size="9.5" text-anchor="end" fill="#2b2323" font-weight="normal">1.0</text>
<line x1="433.3" y1="796.5" x2="433.3" y2="799.1" stroke="#777" stroke-width="0.9"/>
<text x="433.3" y="807.8" font-size="9.5" text-anchor="middle" fill="#2b2323" font-weight="normal">1.0</text>
<text x="363.8" y="823.7" font-size="11.2" text-anchor="middle" fill="#231815" font-weight="normal">1 - Specificity</text>
<text x="260.1" y="729.9" font-size="11.3" text-anchor="middle" fill="#231815" font-weight="normal" transform="rotate(-90 260.1 729.9)">Sensitivity</text>
<path d="M294.04 784.94 L295.45 742.53 L296.23 722.11 L296.23 695.41 L296.71 695.41 L296.71 685.99 L297.49 685.99 L297.49 679.71 L298.28 679.71 L298.28 678.92 L301.42 678.92 L301.42 676.56 L302.2 676.56 L311.63 676.25 L311.63 674.52 L433.3 674.3" fill="none" stroke="#44a2ba" stroke-width="1.05" stroke-linejoin="round"/>
<path d="M294.04 784.94 L294.82 711.12 L295.14 684.42 L295.45 674.52 L433.3 674.3" fill="none" stroke="#35a47a" stroke-width="1.05" stroke-linejoin="round"/>
<path d="M294.04 784.94 L294.82 711.12 L295.14 684.42 L295.45 674.52 L433.3 674.3" fill="none" stroke="#f6b57e" stroke-width="1.05" stroke-linejoin="round"/>
<path d="M294.04 784.94 L294.82 711.12 L294.98 684.42 L295.14 674.52 L433.3 674.3" fill="none" stroke="#f4b9d0" stroke-width="1.05" stroke-linejoin="round"/>
<path d="M294.04 784.94 L294.82 711.12 L295.14 684.42 L295.45 674.52 L433.3 674.3" fill="none" stroke="#c7c2dd" stroke-width="1.05" stroke-linejoin="round"/>
<text x="443.4" y="724.8" font-size="11.5" text-anchor="end" fill="#3a3030" font-weight="normal">Cell area</text>
<text x="437.1" y="737.9" font-size="8.9" text-anchor="end" fill="#2b2323" font-weight="normal">AUC</text>
<line x1="363.4" y1="745.7" x2="383.5" y2="745.7" stroke="#44a2ba" stroke-width="1.1"/>
<text x="386.6" y="748.9" font-size="8.9" text-anchor="start" fill="#2b2323" font-weight="normal">Test #1 0.988</text>
<line x1="363.4" y1="756.6" x2="383.5" y2="756.6" stroke="#35a47a" stroke-width="1.1"/>
<text x="386.6" y="759.8" font-size="8.9" text-anchor="start" fill="#2b2323" font-weight="normal">Test #2 0.994</text>
<line x1="363.4" y1="767.5" x2="383.5" y2="767.5" stroke="#f6b57e" stroke-width="1.1"/>
<text x="386.6" y="770.7" font-size="8.9" text-anchor="start" fill="#2b2323" font-weight="normal">Test #3 0.997</text>
<line x1="363.4" y1="778.4" x2="383.5" y2="778.4" stroke="#f4b9d0" stroke-width="1.1"/>
<text x="386.6" y="781.6" font-size="8.9" text-anchor="start" fill="#2b2323" font-weight="normal">Test #4 0.999</text>
<line x1="363.4" y1="789.3" x2="383.5" y2="789.3" stroke="#c7c2dd" stroke-width="1.1"/>
<text x="386.6" y="792.5" font-size="8.9" text-anchor="start" fill="#2b2323" font-weight="normal">Test #5 0.994</text>
<text x="492.6" y="649.3" font-size="26" text-anchor="start" fill="#231815" font-weight="bold">l</text>
<rect x="516" y="663.3" width="165.8" height="133.2" fill="none" stroke="#8c8c8c" stroke-width="1.3"/>
<g stroke="#2a2a2a" stroke-width="1" stroke-dasharray="1.4 1.6" fill="none"><line x1="529.2" y1="664.3" x2="529.2" y2="795.5"/><line x1="517" y1="785.4" x2="680.8" y2="785.4"/></g>
<line x1="516.7" y1="795.8" x2="681.1" y2="664" stroke="#2e2e2e" stroke-width="1" stroke-dasharray="1.6 1.5"/>
<line x1="513.4" y1="785.4" x2="516" y2="785.4" stroke="#777" stroke-width="0.9"/>
<text x="511.5" y="788.7" font-size="9.5" text-anchor="end" fill="#2b2323" font-weight="normal">0.0</text>
<line x1="529.2" y1="796.5" x2="529.2" y2="799.1" stroke="#777" stroke-width="0.9"/>
<text x="529.2" y="807.8" font-size="9.5" text-anchor="middle" fill="#2b2323" font-weight="normal">0.0</text>
<line x1="513.4" y1="729.85" x2="516" y2="729.85" stroke="#777" stroke-width="0.9"/>
<text x="511.5" y="733.15" font-size="9.5" text-anchor="end" fill="#2b2323" font-weight="normal">0.5</text>
<line x1="598.8" y1="796.5" x2="598.8" y2="799.1" stroke="#777" stroke-width="0.9"/>
<text x="598.8" y="807.8" font-size="9.5" text-anchor="middle" fill="#2b2323" font-weight="normal">0.5</text>
<line x1="513.4" y1="674.3" x2="516" y2="674.3" stroke="#777" stroke-width="0.9"/>
<text x="511.5" y="677.6" font-size="9.5" text-anchor="end" fill="#2b2323" font-weight="normal">1.0</text>
<line x1="668.4" y1="796.5" x2="668.4" y2="799.1" stroke="#777" stroke-width="0.9"/>
<text x="668.4" y="807.8" font-size="9.5" text-anchor="middle" fill="#2b2323" font-weight="normal">1.0</text>
<text x="598.9" y="823.7" font-size="11.2" text-anchor="middle" fill="#231815" font-weight="normal">1 - Specificity</text>
<text x="495.2" y="729.9" font-size="11.3" text-anchor="middle" fill="#231815" font-weight="normal" transform="rotate(-90 495.2 729.9)">Sensitivity</text>
<path d="M529.31 785.47 L530.02 734.08 L530.72 715.39 L530.72 704.88 L531.88 704.88 L531.88 703.71 L532.82 703.71 L537.02 703.71 L537.02 701.37 L538.19 701.37 L538.19 699.04 L541.69 699.04 L541.69 696.7 L544.03 696.7 L544.03 695.53 L548.7 695.53 L548.7 693.2 L551.04 693.2 L551.04 689.69 L553.37 689.69 L553.37 687.36 L556.88 687.36 L556.88 686.19 L562.72 686.19 L562.72 685.02 L569.73 685.02 L569.73 683.86 L576.73 683.86 L576.73 682.22 L581.41 682.22 L581.41 681.52 L590.75 681.52 L590.75 680.35 L604.76 680.35 L604.76 678.48 L614.11 678.48 L614.11 677.55 L632.8 677.55 L632.8 676.85 L646.81 676.85 L646.81 675.68 L656.15 675.68 L656.15 674.51 L668.4 674.3" fill="none" stroke="#44a2ba" stroke-width="1.05" stroke-linejoin="round"/>
<path d="M529.31 785.47 L530.02 722.4 L530.72 701.37 L530.72 696.7 L532.35 696.7 L532.35 694.37 L533.52 694.37 L539.36 693.9 L539.36 693.2 L542.86 693.2 L542.86 692.03 L547.53 692.03 L547.53 688.53 L552.21 688.53 L552.21 686.89 L556.88 686.89 L556.88 686.19 L562.72 686.19 L562.72 683.86 L569.73 683.86 L569.73 682.69 L581.41 682.69 L581.41 679.88 L586.08 679.88 L586.08 678.02 L591.92 678.02 L591.92 674.51 L593.08 674.51 L668.4 674.3" fill="none" stroke="#35a47a" stroke-width="1.05" stroke-linejoin="round"/>
<path d="M529.31 785.47 L530.02 734.08 L531.18 717.73 L531.18 715.39 L533.52 715.39 L533.52 711.89 L535.86 711.89 L535.86 707.21 L538.19 707.21 L538.19 704.88 L539.36 704.88 L539.36 702.54 L541.69 702.54 L541.69 700.21 L545.2 700.21 L545.2 695.53 L548.7 695.53 L548.7 693.2 L551.04 693.2 L551.04 692.03 L555.71 692.03 L555.71 689.69 L562.72 689.69 L562.72 682.69 L570.89 682.69 L570.89 681.52 L574.4 681.52 L574.4 679.18 L581.41 679.18 L581.41 678.02 L586.08 678.02 L586.08 676.85 L593.08 676.85 L593.08 675.68 L605.93 675.68 L605.93 674.51 L607.1 674.51 L668.4 674.3" fill="none" stroke="#f6b57e" stroke-width="1.05" stroke-linejoin="round"/>
<path d="M529.31 785.47 L530.02 734.08 L530.48 722.4 L530.48 710.72 L531.18 710.72 L531.18 701.37 L534.69 701.37 L534.69 699.04 L538.19 699.04 L538.19 695.53 L539.36 695.53 L539.36 693.2 L545.2 693.2 L545.2 691.56 L551.04 691.56 L551.04 690.16 L558.05 690.16 L558.05 688.53 L567.39 688.53 L567.39 687.36 L576.73 687.36 L576.73 686.19 L583.74 686.19 L583.74 685.02 L593.08 685.02 L593.08 683.86 L609.44 683.86 L609.44 682.69 L618.78 682.69 L618.78 681.52 L630.46 681.52 L630.46 678.48 L630.46 676.85 L642.14 676.85 L642.14 675.68 L646.81 675.68 L646.81 674.51 L651.48 674.51 L668.4 674.3" fill="none" stroke="#f4b9d0" stroke-width="1.05" stroke-linejoin="round"/>
<path d="M529.31 785.47 L529.55 710.72 L530.02 692.03 L530.72 691.56 L539.36 691.56 L551.04 691.56 L551.04 690.86 L560.38 690.86 L560.38 688.53 L569.73 688.53 L569.73 686.19 L581.41 686.19 L581.41 683.86 L590.75 683.86 L590.75 681.52 L597.76 681.52 L597.76 680.35 L609.44 680.35 L609.44 678.02 L616.44 678.02 L616.44 676.85 L632.8 676.85 L632.8 675.68 L646.81 675.68 L646.81 674.51 L656.15 674.51 L668.4 674.3" fill="none" stroke="#c7c2dd" stroke-width="1.05" stroke-linejoin="round"/>
<text x="678.5" y="724.8" font-size="11.5" text-anchor="end" fill="#3a3030" font-weight="normal">DiO/bac</text>
<text x="672.2" y="737.9" font-size="8.9" text-anchor="end" fill="#2b2323" font-weight="normal">AUC</text>
<line x1="598.5" y1="745.7" x2="618.6" y2="745.7" stroke="#44a2ba" stroke-width="1.1"/>
<text x="621.7" y="748.9" font-size="8.9" text-anchor="start" fill="#2b2323" font-weight="normal">Test #1 0.906</text>
<line x1="598.5" y1="756.6" x2="618.6" y2="756.6" stroke="#35a47a" stroke-width="1.1"/>
<text x="621.7" y="759.8" font-size="8.9" text-anchor="start" fill="#2b2323" font-weight="normal">Test #2 0.930</text>
<line x1="598.5" y1="767.5" x2="618.6" y2="767.5" stroke="#f6b57e" stroke-width="1.1"/>
<text x="621.7" y="770.7" font-size="8.9" text-anchor="start" fill="#2b2323" font-weight="normal">Test #3 0.916</text>
<line x1="598.5" y1="778.4" x2="618.6" y2="778.4" stroke="#f4b9d0" stroke-width="1.1"/>
<text x="621.7" y="781.6" font-size="8.9" text-anchor="start" fill="#2b2323" font-weight="normal">Test #4 0.898</text>
<line x1="598.5" y1="789.3" x2="618.6" y2="789.3" stroke="#c7c2dd" stroke-width="1.1"/>
<text x="621.7" y="792.5" font-size="8.9" text-anchor="start" fill="#2b2323" font-weight="normal">Test #5 0.914</text>
</svg>
</body></html>
